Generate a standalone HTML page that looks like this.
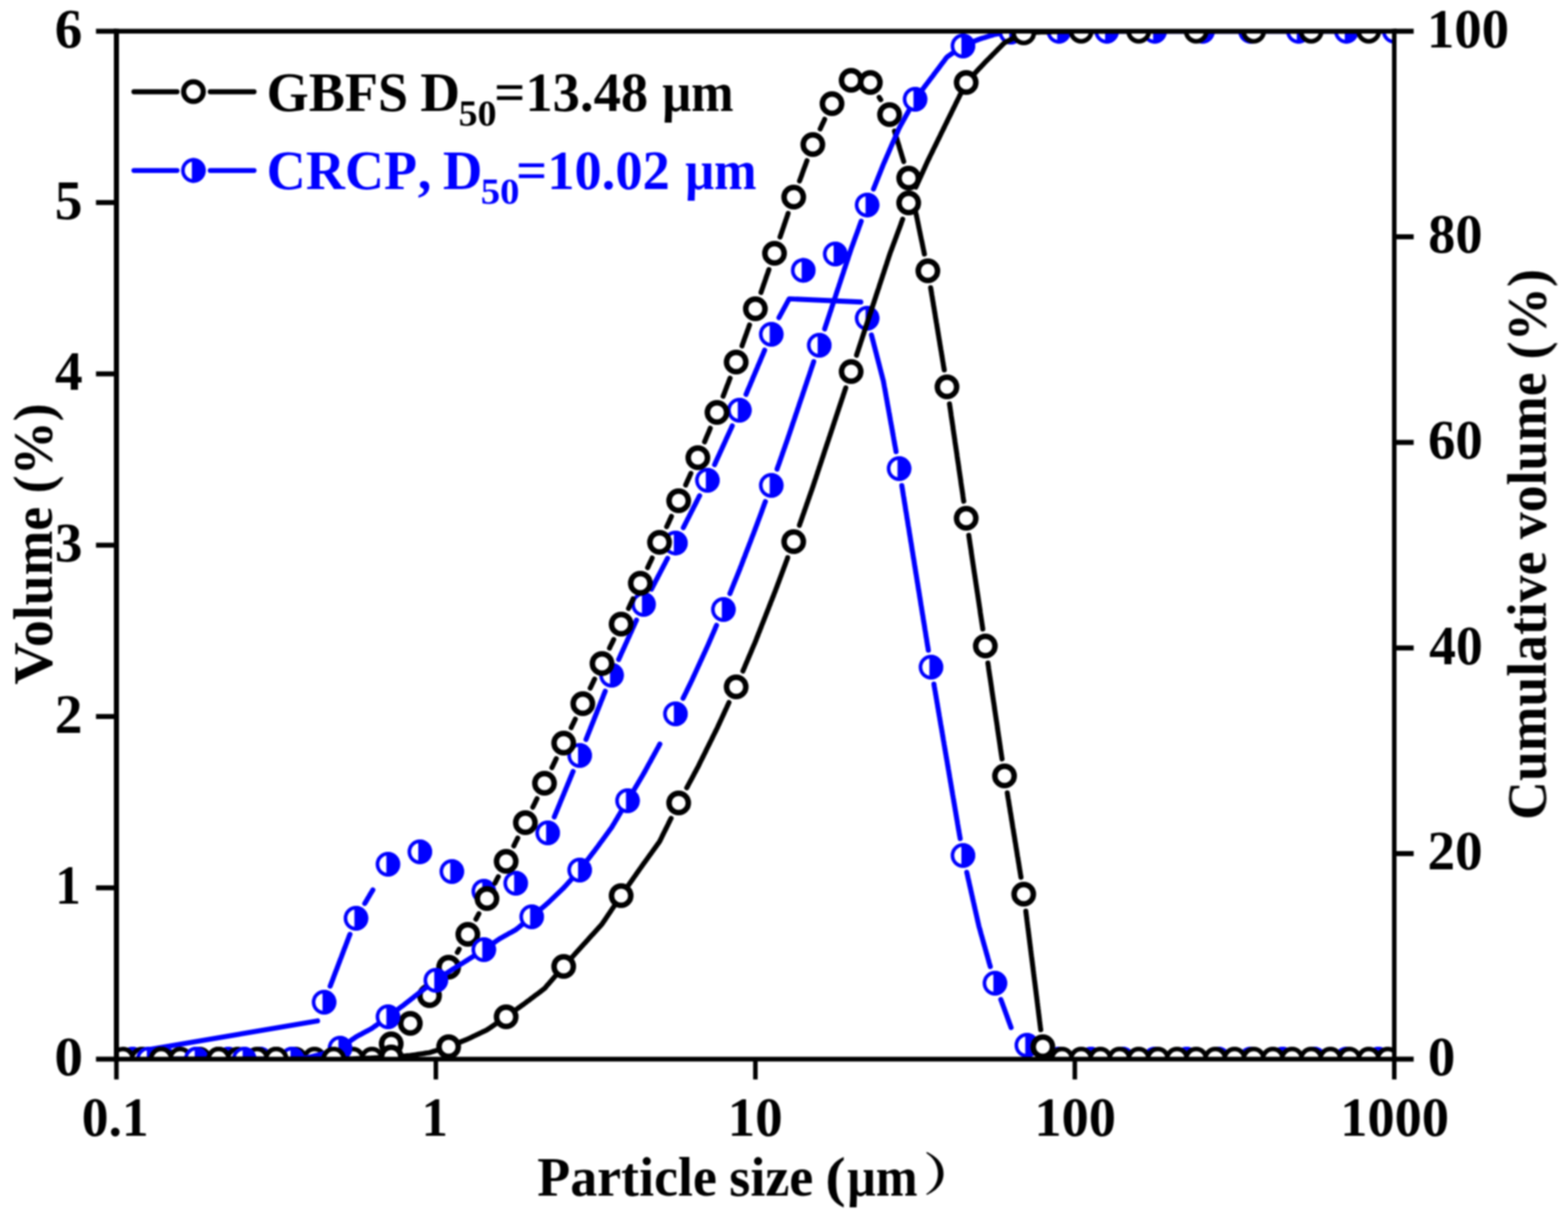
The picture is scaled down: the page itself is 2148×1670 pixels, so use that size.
<!DOCTYPE html>
<html lang="en"><head><meta charset="utf-8"><title>Particle size distribution</title>
<style>html,body{margin:0;padding:0;background:#fff;}body{width:2148px;height:1670px;overflow:hidden;}svg{display:block;}text{font-family:'Liberation Serif', 'Noto Serif CJK SC', serif;font-weight:bold;font-size:76px;}</style></head><body>
<svg width="2148" height="1670" viewBox="0 0 2148 1670">
<rect width="2148" height="1670" fill="#fff"/>
<defs><clipPath id="plot"><rect x="159.5" y="42.8" width="1750.5" height="1408.2"/></clipPath><filter id="soft" filterUnits="userSpaceOnUse" x="0" y="0" width="2148" height="1670" color-interpolation-filters="sRGB"><feGaussianBlur stdDeviation="0.85"/></filter></defs>
<g id="chart" filter="url(#soft)">
<g id="crcp-volume"><g clip-path="url(#plot)"><path d="M452.3,1351.0 L453.0,1349.2 L453.7,1347.3 L454.5,1345.4 L455.2,1343.5 L455.9,1341.7 L456.6,1339.8 L457.3,1337.9 L458.0,1336.1 L458.7,1334.2 L459.4,1332.3 L460.1,1330.5 L460.9,1328.6 L461.6,1326.7 L462.3,1324.8 L463.0,1323.0 L463.7,1321.1 L464.4,1319.2 L465.1,1317.4 L465.8,1315.5 L466.5,1313.6 L467.3,1311.8 L468.0,1309.9 L468.7,1308.0 L469.4,1306.2 L470.1,1304.3 L470.8,1302.4 L471.5,1300.5 L472.2,1298.7 L473.0,1296.8 L473.7,1294.9 L474.4,1293.1 L475.1,1291.2 L475.8,1289.3 L476.5,1287.5 L477.2,1285.6 L477.9,1283.7 L478.6,1281.8 L479.4,1280.0 M499.7,1237.7 L500.8,1235.9 L501.8,1234.2 L502.8,1232.5 L503.8,1230.7 L504.9,1229.0 L505.9,1227.3 L506.9,1225.5 L507.9,1223.8 L509.0,1222.1 L510.0,1220.4 L510.8,1219.1 M759.3,1119.2 L760.0,1117.4 L760.8,1115.5 L761.6,1113.7 L762.3,1111.8 L763.1,1110.0 L763.9,1108.1 L764.6,1106.3 L765.4,1104.4 L766.2,1102.6 L766.9,1100.7 L767.7,1098.9 L768.4,1097.0 L769.2,1095.2 L770.0,1093.3 L770.7,1091.5 L771.5,1089.6 L772.3,1087.8 L773.0,1085.9 L773.8,1084.1 L774.6,1082.2 L775.3,1080.4 L776.1,1078.5 L776.9,1076.7 L777.6,1074.8 L778.4,1073.0 L779.2,1071.1 L779.9,1069.3 L780.7,1067.4 L781.4,1065.6 L782.2,1063.7 L783.0,1061.8 L783.7,1060.0 L784.5,1058.1 L785.1,1056.8 M802.8,1013.1 L803.5,1011.2 L804.3,1009.4 L805.0,1007.5 L805.7,1005.6 L806.5,1003.8 L807.2,1001.9 L808.0,1000.0 L808.7,998.2 L809.4,996.3 L810.2,994.4 L810.9,992.6 L811.7,990.7 L812.4,988.9 L813.2,987.0 L813.9,985.1 L814.6,983.3 L815.4,981.4 L816.1,979.5 L816.9,977.7 L817.6,975.8 L818.3,973.9 L819.1,972.1 L819.8,970.2 L820.6,968.3 L821.3,966.5 L822.1,964.6 L822.8,962.8 L823.5,960.9 L824.3,959.0 L825.0,957.2 L825.8,955.3 L826.5,953.4 L827.2,951.6 L828.0,949.7 L828.7,947.8 L829.1,946.9 M847.5,903.5 L848.3,901.7 L849.2,899.8 L850.0,898.0 L850.8,896.2 L851.6,894.3 L852.5,892.5 L853.3,890.7 L854.1,888.9 L855.0,887.0 L855.8,885.2 L856.6,883.4 L857.4,881.5 L858.3,879.7 L859.1,877.9 L859.9,876.0 L860.7,874.2 L861.6,872.4 L862.4,870.6 L863.2,868.7 L864.0,866.9 L864.9,865.1 L865.7,863.2 L866.5,861.4 L867.3,859.6 L868.2,857.7 L869.0,855.9 L869.8,854.1 L870.6,852.2 L871.5,850.4 L871.9,849.5 M892.5,807.1 L893.4,805.3 L894.3,803.6 L895.2,801.8 L896.2,800.0 L897.1,798.2 L898.0,796.4 L898.9,794.7 L899.9,792.9 L900.8,791.1 L901.7,789.3 L902.7,787.6 L903.6,785.8 L904.5,784.0 L905.4,782.2 L906.4,780.4 L907.3,778.7 L908.2,776.9 L909.1,775.1 L910.1,773.3 L911.0,771.6 L911.9,769.8 L912.8,768.0 L913.8,766.2 L914.5,764.9 M936.1,722.9 L937.0,721.2 L937.9,719.4 L938.8,717.6 L939.7,715.8 L940.6,714.0 L941.5,712.2 L942.4,710.4 L943.4,708.6 L944.3,706.8 L945.2,705.0 L946.1,703.2 L947.0,701.4 L947.9,699.7 L948.8,697.9 L949.7,696.1 L950.6,694.3 L951.6,692.5 L952.5,690.7 L953.4,688.9 L954.3,687.1 L955.2,685.3 L956.1,683.5 L957.0,681.7 L957.9,679.9 L958.4,679.1 M978.9,636.6 L979.7,634.8 L980.5,633.0 L981.3,631.2 L982.2,629.3 L983.0,627.5 L983.8,625.7 L984.7,623.9 L985.5,622.1 L986.3,620.2 L987.2,618.4 L988.0,616.6 L988.8,614.8 L989.6,613.0 L990.5,611.1 L991.3,609.3 L992.1,607.5 L993.0,605.7 L993.8,603.9 L994.6,602.0 L995.4,600.2 L996.3,598.4 L997.1,596.6 L997.9,594.8 L998.8,592.9 L999.6,591.1 L1000.4,589.3 L1001.3,587.5 L1002.1,585.7 L1002.9,583.8 L1003.1,583.4 M1022.0,540.3 L1022.8,538.4 L1023.6,536.6 L1024.3,534.7 L1025.1,532.9 L1025.9,531.0 L1026.7,529.2 L1027.5,527.3 L1028.2,525.5 L1029.0,523.6 L1029.8,521.8 L1030.6,519.9 L1031.3,518.1 L1032.1,516.2 L1032.9,514.4 L1033.7,512.5 L1034.5,510.7 L1035.2,508.8 L1036.0,507.0 L1036.8,505.1 L1037.6,503.3 L1038.3,501.4 L1039.1,499.6 L1039.9,497.8 L1040.7,495.9 L1041.5,494.1 L1042.2,492.2 L1043.0,490.4 L1043.8,488.5 L1044.6,486.7 L1045.4,484.8 L1046.1,483.0 L1046.9,481.1 L1047.5,479.7 M1193.8,458.8 L1194.3,460.7 L1194.8,462.6 L1195.3,464.6 L1195.8,466.5 L1196.3,468.4 L1196.8,470.4 L1197.3,472.3 L1197.8,474.3 L1198.3,476.2 L1198.8,478.1 L1199.3,480.1 L1199.8,482.0 L1200.3,483.9 L1200.8,485.9 L1201.3,487.8 L1201.8,489.8 L1202.3,491.7 L1202.8,493.6 L1203.3,495.6 L1203.8,497.5 L1204.3,499.4 L1204.8,501.4 L1205.3,503.3 L1205.8,505.3 L1206.3,507.2 L1206.8,509.1 L1207.3,511.1 L1207.8,513.0 L1208.3,514.9 L1208.8,516.9 L1209.3,518.8 L1209.8,520.7 L1210.3,522.7 L1210.6,524.7 L1211.0,526.6 L1211.3,528.6 L1211.7,530.6 L1212.1,532.6 L1212.4,534.5 L1212.8,536.5 L1213.1,538.5 L1213.5,540.4 L1213.8,542.4 L1214.2,544.4 L1214.5,546.4 L1214.9,548.3 L1215.2,550.3 L1215.6,552.3 L1215.9,554.2 L1216.3,556.2 L1216.7,558.2 L1217.0,560.2 L1217.4,562.1 L1217.7,564.1 L1218.1,566.1 L1218.4,568.0 L1218.8,570.0 L1219.1,572.0 L1219.5,574.0 L1219.8,575.9 L1220.2,577.9 L1220.5,579.9 L1220.9,581.9 L1221.3,583.8 L1221.6,585.8 L1222.0,587.8 L1222.3,589.7 L1222.7,591.7 L1223.0,593.7 L1223.4,595.7 L1223.7,597.6 L1224.1,599.6 L1224.4,601.6 L1224.8,603.5 L1225.1,605.5 L1225.5,607.5 L1225.8,609.5 L1226.2,611.4 L1226.6,613.4 L1226.9,615.4 L1227.3,617.3 L1227.5,618.8 M1235.4,665.2 L1235.7,667.2 L1236.1,669.2 L1236.4,671.2 L1236.7,673.2 L1237.0,675.1 L1237.3,677.1 L1237.6,679.1 L1238.0,681.1 L1238.3,683.0 L1238.6,685.0 L1238.9,687.0 L1239.2,689.0 L1239.6,691.0 L1239.9,692.9 L1240.2,694.9 L1240.5,696.9 L1240.8,698.9 L1241.1,700.9 L1241.5,702.8 L1241.8,704.8 L1242.1,706.8 L1242.4,708.8 L1242.7,710.7 L1243.1,712.7 L1243.4,714.7 L1243.7,716.7 L1244.0,718.7 L1244.3,720.6 L1244.7,722.6 L1245.0,724.6 L1245.3,726.6 L1245.6,728.5 L1245.9,730.5 L1246.2,732.5 L1246.6,734.5 L1246.9,736.5 L1247.2,738.4 L1247.5,740.4 L1247.8,742.4 L1248.2,744.4 L1248.5,746.3 L1248.8,748.3 L1249.1,750.3 L1249.4,752.3 L1249.7,754.3 L1250.1,756.2 L1250.4,758.2 L1250.7,760.2 L1251.0,762.2 L1251.3,764.2 L1251.7,766.1 L1252.0,768.1 L1252.3,770.1 L1252.6,772.1 L1252.9,774.0 L1253.2,776.0 L1253.6,778.0 L1253.9,780.0 L1254.2,782.0 L1254.5,783.9 L1254.8,785.9 L1255.2,787.9 L1255.5,789.9 L1255.8,791.8 L1256.1,793.8 L1256.4,795.8 L1256.7,797.8 L1257.1,799.8 L1257.4,801.7 L1257.7,803.7 L1258.0,805.7 L1258.3,807.7 L1258.7,809.7 L1259.0,811.6 L1259.3,813.6 L1259.6,815.6 L1259.9,817.6 L1260.2,819.5 L1260.6,821.5 L1260.9,823.5 L1261.2,825.5 L1261.5,827.5 L1261.8,829.4 L1262.2,831.4 L1262.5,833.4 L1262.8,835.4 L1263.1,837.3 L1263.4,839.3 L1263.7,841.3 L1264.1,843.3 L1264.4,845.3 L1264.7,847.2 L1265.0,849.2 L1265.3,851.2 L1265.7,853.2 L1266.0,855.1 L1266.3,857.1 L1266.6,859.1 L1266.9,861.1 L1267.2,863.1 L1267.6,865.0 L1267.9,867.0 L1268.2,869.0 L1268.5,871.0 L1268.8,873.0 L1269.2,874.9 L1269.5,876.9 L1269.8,878.9 L1270.1,880.9 L1270.4,882.8 L1270.7,884.8 L1271.1,886.8 L1271.4,888.8 L1271.7,890.8 M1279.4,937.2 L1279.7,939.2 L1280.0,941.1 L1280.4,943.1 L1280.7,945.1 L1281.1,947.1 L1281.4,949.0 L1281.7,951.0 L1282.1,953.0 L1282.4,954.9 L1282.7,956.9 L1283.1,958.9 L1283.4,960.9 L1283.7,962.8 L1284.1,964.8 L1284.4,966.8 L1284.7,968.8 L1285.1,970.7 L1285.4,972.7 L1285.7,974.7 L1286.1,976.7 L1286.4,978.6 L1286.7,980.6 L1287.1,982.6 L1287.4,984.5 L1287.7,986.5 L1288.1,988.5 L1288.4,990.5 L1288.7,992.4 L1289.1,994.4 L1289.4,996.4 L1289.8,998.4 L1290.1,1000.3 L1290.4,1002.3 L1290.8,1004.3 L1291.1,1006.2 L1291.4,1008.2 L1291.8,1010.2 L1292.1,1012.2 L1292.4,1014.1 L1292.8,1016.1 L1293.1,1018.1 L1293.4,1020.1 L1293.8,1022.0 L1294.1,1024.0 L1294.4,1026.0 L1294.8,1028.0 L1295.1,1029.9 L1295.4,1031.9 L1295.8,1033.9 L1296.1,1035.8 L1296.4,1037.8 L1296.8,1039.8 L1297.1,1041.8 L1297.5,1043.7 L1297.8,1045.7 L1298.1,1047.7 L1298.5,1049.7 L1298.8,1051.6 L1299.1,1053.6 L1299.5,1055.6 L1299.8,1057.6 L1300.1,1059.5 L1300.5,1061.5 L1300.8,1063.5 L1301.1,1065.4 L1301.5,1067.4 L1301.8,1069.4 L1302.1,1071.4 L1302.5,1073.3 L1302.8,1075.3 L1303.1,1077.3 L1303.5,1079.3 L1303.8,1081.2 L1304.1,1083.2 L1304.5,1085.2 L1304.8,1087.2 L1305.1,1089.1 L1305.5,1091.1 L1305.8,1093.1 L1306.2,1095.0 L1306.5,1097.0 L1306.8,1099.0 L1307.2,1101.0 L1307.5,1102.9 L1307.8,1104.9 L1308.2,1106.9 L1308.5,1108.9 L1308.8,1110.8 L1309.2,1112.8 L1309.5,1114.8 L1309.8,1116.7 L1310.2,1118.7 L1310.5,1120.7 L1310.8,1122.7 L1311.2,1124.6 L1311.5,1126.6 L1311.8,1128.6 L1312.2,1130.6 L1312.5,1132.5 L1312.8,1134.5 L1313.2,1136.5 L1313.5,1138.5 L1313.9,1140.4 L1314.2,1142.4 L1314.5,1144.4 L1314.9,1146.3 L1315.2,1148.3 L1315.3,1148.8 M1324.4,1195.0 L1324.8,1196.9 L1325.3,1198.9 L1325.7,1200.8 L1326.1,1202.8 L1326.6,1204.8 L1327.0,1206.7 L1327.5,1208.7 L1327.9,1210.6 L1328.3,1212.6 L1328.8,1214.5 L1329.2,1216.5 L1329.7,1218.4 L1330.1,1220.4 L1330.5,1222.4 L1331.0,1224.3 L1331.4,1226.3 L1331.9,1228.2 L1332.3,1230.2 L1332.7,1232.1 L1333.2,1234.1 L1333.6,1236.0 L1334.1,1238.0 L1334.5,1240.0 L1334.9,1241.9 L1335.4,1243.9 L1335.8,1245.8 L1336.3,1247.8 L1336.7,1249.7 L1337.1,1251.7 L1337.6,1253.6 L1338.0,1255.6 L1338.5,1257.6 L1338.9,1259.5 L1339.3,1261.5 L1339.8,1263.4 L1340.2,1265.4 L1340.7,1267.3 L1341.1,1269.3 L1341.7,1271.2 L1342.2,1273.1 L1342.8,1275.1 L1343.3,1277.0 L1343.8,1278.9 L1344.4,1280.9 L1344.9,1282.8 L1345.5,1284.7 L1346.0,1286.7 L1346.6,1288.6 L1347.1,1290.5 L1347.6,1292.5 L1348.2,1294.4 L1348.7,1296.3 L1349.3,1298.2 L1349.8,1300.2 L1350.4,1302.1 L1350.9,1304.0 L1351.4,1306.0 L1352.0,1307.9 L1352.5,1309.8 L1353.1,1311.8 L1353.6,1313.7 L1354.2,1315.6 L1354.7,1317.6 L1355.2,1319.5 L1355.8,1321.4 L1356.3,1323.3 L1356.6,1324.3 M1371.0,1369.2 L1371.7,1371.0 L1372.4,1372.9 L1373.1,1374.8 L1373.8,1376.7 L1374.5,1378.6 L1375.2,1380.5 L1375.9,1382.4 L1376.5,1384.3 L1377.2,1386.1 L1377.9,1388.0 L1378.6,1389.9 L1379.3,1391.8 L1380.0,1393.7 L1380.7,1395.6 L1381.3,1397.5 L1382.0,1399.3 L1382.7,1401.2 L1383.4,1403.1 L1384.1,1405.0 L1384.8,1406.9 L1385.1,1407.8 M159.5,1445.3 L435.0,1398.6 M1067.1,435.1 L1081.1,409.4 L1179.2,413.8" fill="none" stroke="#0000ff" stroke-width="6.9" stroke-linecap="round" stroke-linejoin="round"/><circle cx="181.4" cy="1451.0" r="14.40" fill="#fff" stroke="#0000ff" stroke-width="5.0"/><path d="M179.2,1434.2 A16.9,16.9 0 1 1 179.2,1467.8 Z" fill="#0000ff"/><circle cx="225.1" cy="1451.0" r="14.40" fill="#fff" stroke="#0000ff" stroke-width="5.0"/><path d="M222.9,1434.2 A16.9,16.9 0 1 1 222.9,1467.8 Z" fill="#0000ff"/><circle cx="268.9" cy="1451.0" r="14.40" fill="#fff" stroke="#0000ff" stroke-width="5.0"/><path d="M266.7,1434.2 A16.9,16.9 0 1 1 266.7,1467.8 Z" fill="#0000ff"/><circle cx="312.7" cy="1451.0" r="14.40" fill="#fff" stroke="#0000ff" stroke-width="5.0"/><path d="M310.5,1434.2 A16.9,16.9 0 1 1 310.5,1467.8 Z" fill="#0000ff"/><circle cx="356.4" cy="1451.0" r="14.40" fill="#fff" stroke="#0000ff" stroke-width="5.0"/><path d="M354.2,1434.2 A16.9,16.9 0 1 1 354.2,1467.8 Z" fill="#0000ff"/><circle cx="400.2" cy="1451.0" r="14.40" fill="#fff" stroke="#0000ff" stroke-width="5.0"/><path d="M398.0,1434.2 A16.9,16.9 0 1 1 398.0,1467.8 Z" fill="#0000ff"/><circle cx="444.0" cy="1373.0" r="14.40" fill="#fff" stroke="#0000ff" stroke-width="5.0"/><path d="M441.8,1356.2 A16.9,16.9 0 1 1 441.8,1389.8 Z" fill="#0000ff"/><circle cx="487.7" cy="1258.0" r="14.40" fill="#fff" stroke="#0000ff" stroke-width="5.0"/><path d="M485.5,1241.2 A16.9,16.9 0 1 1 485.5,1274.8 Z" fill="#0000ff"/><circle cx="531.5" cy="1184.0" r="14.40" fill="#fff" stroke="#0000ff" stroke-width="5.0"/><path d="M529.3,1167.2 A16.9,16.9 0 1 1 529.3,1200.8 Z" fill="#0000ff"/><circle cx="575.2" cy="1167.0" r="14.40" fill="#fff" stroke="#0000ff" stroke-width="5.0"/><path d="M573.0,1150.2 A16.9,16.9 0 1 1 573.0,1183.8 Z" fill="#0000ff"/><circle cx="619.0" cy="1194.0" r="14.40" fill="#fff" stroke="#0000ff" stroke-width="5.0"/><path d="M616.8,1177.2 A16.9,16.9 0 1 1 616.8,1210.8 Z" fill="#0000ff"/><circle cx="662.8" cy="1221.0" r="14.40" fill="#fff" stroke="#0000ff" stroke-width="5.0"/><path d="M660.6,1204.2 A16.9,16.9 0 1 1 660.6,1237.8 Z" fill="#0000ff"/><circle cx="706.5" cy="1210.0" r="14.40" fill="#fff" stroke="#0000ff" stroke-width="5.0"/><path d="M704.3,1193.2 A16.9,16.9 0 1 1 704.3,1226.8 Z" fill="#0000ff"/><circle cx="750.3" cy="1141.0" r="14.40" fill="#fff" stroke="#0000ff" stroke-width="5.0"/><path d="M748.1,1124.2 A16.9,16.9 0 1 1 748.1,1157.8 Z" fill="#0000ff"/><circle cx="794.1" cy="1035.0" r="14.40" fill="#fff" stroke="#0000ff" stroke-width="5.0"/><path d="M791.9,1018.2 A16.9,16.9 0 1 1 791.9,1051.8 Z" fill="#0000ff"/><circle cx="837.8" cy="925.0" r="14.40" fill="#fff" stroke="#0000ff" stroke-width="5.0"/><path d="M835.6,908.2 A16.9,16.9 0 1 1 835.6,941.8 Z" fill="#0000ff"/><circle cx="881.6" cy="828.0" r="14.40" fill="#fff" stroke="#0000ff" stroke-width="5.0"/><path d="M879.4,811.2 A16.9,16.9 0 1 1 879.4,844.8 Z" fill="#0000ff"/><circle cx="925.3" cy="744.0" r="14.40" fill="#fff" stroke="#0000ff" stroke-width="5.0"/><path d="M923.1,727.2 A16.9,16.9 0 1 1 923.1,760.8 Z" fill="#0000ff"/><circle cx="969.1" cy="658.0" r="14.40" fill="#fff" stroke="#0000ff" stroke-width="5.0"/><path d="M966.9,641.2 A16.9,16.9 0 1 1 966.9,674.8 Z" fill="#0000ff"/><circle cx="1012.9" cy="562.0" r="14.40" fill="#fff" stroke="#0000ff" stroke-width="5.0"/><path d="M1010.7,545.2 A16.9,16.9 0 1 1 1010.7,578.8 Z" fill="#0000ff"/><circle cx="1056.6" cy="458.0" r="14.40" fill="#fff" stroke="#0000ff" stroke-width="5.0"/><path d="M1054.4,441.2 A16.9,16.9 0 1 1 1054.4,474.8 Z" fill="#0000ff"/><circle cx="1100.4" cy="370.3" r="14.40" fill="#fff" stroke="#0000ff" stroke-width="5.0"/><path d="M1098.2,353.5 A16.9,16.9 0 1 1 1098.2,387.1 Z" fill="#0000ff"/><circle cx="1144.2" cy="348.0" r="14.40" fill="#fff" stroke="#0000ff" stroke-width="5.0"/><path d="M1142.0,331.2 A16.9,16.9 0 1 1 1142.0,364.8 Z" fill="#0000ff"/><circle cx="1187.9" cy="436.0" r="14.40" fill="#fff" stroke="#0000ff" stroke-width="5.0"/><path d="M1185.7,419.2 A16.9,16.9 0 1 1 1185.7,452.8 Z" fill="#0000ff"/><circle cx="1231.7" cy="642.0" r="14.40" fill="#fff" stroke="#0000ff" stroke-width="5.0"/><path d="M1229.5,625.2 A16.9,16.9 0 1 1 1229.5,658.8 Z" fill="#0000ff"/><circle cx="1275.4" cy="914.0" r="14.40" fill="#fff" stroke="#0000ff" stroke-width="5.0"/><path d="M1273.2,897.2 A16.9,16.9 0 1 1 1273.2,930.8 Z" fill="#0000ff"/><circle cx="1319.2" cy="1172.0" r="14.40" fill="#fff" stroke="#0000ff" stroke-width="5.0"/><path d="M1317.0,1155.2 A16.9,16.9 0 1 1 1317.0,1188.8 Z" fill="#0000ff"/><circle cx="1363.0" cy="1347.0" r="14.40" fill="#fff" stroke="#0000ff" stroke-width="5.0"/><path d="M1360.8,1330.2 A16.9,16.9 0 1 1 1360.8,1363.8 Z" fill="#0000ff"/><circle cx="1406.7" cy="1432.0" r="14.40" fill="#fff" stroke="#0000ff" stroke-width="5.0"/><path d="M1404.5,1415.2 A16.9,16.9 0 1 1 1404.5,1448.8 Z" fill="#0000ff"/><circle cx="1450.5" cy="1451.0" r="14.40" fill="#fff" stroke="#0000ff" stroke-width="5.0"/><path d="M1448.3,1434.2 A16.9,16.9 0 1 1 1448.3,1467.8 Z" fill="#0000ff"/><circle cx="1494.3" cy="1451.0" r="14.40" fill="#fff" stroke="#0000ff" stroke-width="5.0"/><path d="M1492.1,1434.2 A16.9,16.9 0 1 1 1492.1,1467.8 Z" fill="#0000ff"/><circle cx="1538.0" cy="1451.0" r="14.40" fill="#fff" stroke="#0000ff" stroke-width="5.0"/><path d="M1535.8,1434.2 A16.9,16.9 0 1 1 1535.8,1467.8 Z" fill="#0000ff"/><circle cx="1581.8" cy="1451.0" r="14.40" fill="#fff" stroke="#0000ff" stroke-width="5.0"/><path d="M1579.6,1434.2 A16.9,16.9 0 1 1 1579.6,1467.8 Z" fill="#0000ff"/><circle cx="1625.5" cy="1451.0" r="14.40" fill="#fff" stroke="#0000ff" stroke-width="5.0"/><path d="M1623.3,1434.2 A16.9,16.9 0 1 1 1623.3,1467.8 Z" fill="#0000ff"/><circle cx="1669.3" cy="1451.0" r="14.40" fill="#fff" stroke="#0000ff" stroke-width="5.0"/><path d="M1667.1,1434.2 A16.9,16.9 0 1 1 1667.1,1467.8 Z" fill="#0000ff"/><circle cx="1713.1" cy="1451.0" r="14.40" fill="#fff" stroke="#0000ff" stroke-width="5.0"/><path d="M1710.9,1434.2 A16.9,16.9 0 1 1 1710.9,1467.8 Z" fill="#0000ff"/><circle cx="1756.8" cy="1451.0" r="14.40" fill="#fff" stroke="#0000ff" stroke-width="5.0"/><path d="M1754.6,1434.2 A16.9,16.9 0 1 1 1754.6,1467.8 Z" fill="#0000ff"/><circle cx="1800.6" cy="1451.0" r="14.40" fill="#fff" stroke="#0000ff" stroke-width="5.0"/><path d="M1798.4,1434.2 A16.9,16.9 0 1 1 1798.4,1467.8 Z" fill="#0000ff"/><circle cx="1844.4" cy="1451.0" r="14.40" fill="#fff" stroke="#0000ff" stroke-width="5.0"/><path d="M1842.2,1434.2 A16.9,16.9 0 1 1 1842.2,1467.8 Z" fill="#0000ff"/><circle cx="1888.1" cy="1451.0" r="14.40" fill="#fff" stroke="#0000ff" stroke-width="5.0"/><path d="M1885.9,1434.2 A16.9,16.9 0 1 1 1885.9,1467.8 Z" fill="#0000ff"/></g></g>
<g id="gbfs-volume"><g clip-path="url(#plot)"><path d="M626.5,1304.7 L627.5,1302.9 L628.5,1301.2 L629.0,1300.3 M652.0,1259.3 L653.0,1257.5 L653.9,1255.7 L654.8,1254.0 L655.8,1252.2 L656.0,1251.7 M678.0,1210.0 L678.9,1208.2 L679.8,1206.4 L680.7,1204.6 L681.7,1202.8 L682.6,1201.0 M703.9,1158.9 L704.8,1157.1 L705.6,1155.3 L706.5,1153.5 L707.4,1151.7 L708.3,1149.9 L709.2,1148.1 M729.9,1105.8 L730.8,1104.0 L731.7,1102.2 L732.6,1100.5 L733.4,1098.7 L734.3,1096.8 L735.2,1095.0 L735.6,1094.2 M756.1,1051.6 L757.0,1049.8 L757.9,1048.0 L758.7,1046.2 L759.6,1044.4 L760.5,1042.5 L761.3,1040.7 L762.0,1039.4 M782.5,996.9 L783.3,995.0 L784.2,993.2 L785.1,991.5 L786.0,989.6 L786.8,987.9 L787.7,986.0 L788.1,985.1 M808.6,942.6 L809.5,940.8 L810.4,939.0 L811.2,937.2 L812.1,935.4 L813.0,933.5 L813.8,931.7 L814.5,930.4 M835.0,887.9 L835.8,886.0 L836.7,884.2 L837.6,882.5 L838.5,880.6 L839.4,878.9 L840.2,877.0 L840.7,876.1 M861.0,833.6 L861.8,831.8 L862.7,830.0 L863.5,828.1 L864.4,826.3 L865.3,824.5 L866.1,822.7 L867.0,820.9 L867.2,820.4 M887.2,777.6 L888.1,775.8 L888.9,774.0 L889.8,772.1 L890.7,770.3 L891.5,768.5 L892.4,766.7 L893.2,764.9 L893.4,764.4 M913.3,721.6 L914.2,719.7 L915.0,717.9 L915.9,716.1 L916.7,714.3 L917.5,712.4 L918.4,710.6 L919.2,708.8 L919.8,707.4 M939.3,664.5 L940.1,662.7 L940.9,660.8 L941.7,659.0 L942.5,657.2 L943.4,655.4 L944.2,653.5 L945.0,651.7 L945.8,649.9 L946.4,648.5 M965.2,605.3 L966.0,603.4 L966.8,601.6 L967.5,599.7 L968.3,597.9 L969.1,596.0 L969.9,594.1 L970.7,592.3 L971.5,590.4 L972.2,588.6 L973.0,586.7 M990.6,542.9 L991.3,541.1 L992.1,539.2 L992.8,537.3 L993.5,535.4 L994.2,533.6 L994.9,531.7 L995.6,529.8 L996.3,527.9 L997.1,526.0 L997.8,524.2 L998.5,522.3 L999.2,520.4 L999.9,518.5 L1000.1,518.1 M1016.5,473.9 L1017.1,472.0 L1017.8,470.1 L1018.5,468.2 L1019.2,466.3 L1019.8,464.4 L1020.5,462.6 L1021.2,460.7 L1021.9,458.8 L1022.6,456.9 L1023.2,455.0 L1023.9,453.1 L1024.6,451.3 L1025.3,449.4 L1025.9,447.5 L1026.6,445.6 L1026.8,445.1 M1042.5,400.7 L1043.1,398.8 L1043.8,396.9 L1044.4,395.0 L1045.1,393.1 L1045.7,391.2 L1046.4,389.3 L1047.1,387.4 L1047.7,385.5 L1048.4,383.6 L1049.0,381.7 L1049.7,379.8 L1050.3,377.9 L1051.0,376.0 L1051.7,374.1 L1052.3,372.2 L1053.0,370.3 L1053.3,369.3 M1068.6,324.7 L1069.3,322.8 L1069.9,320.9 L1070.6,319.0 L1071.2,317.1 L1071.9,315.2 L1072.5,313.3 L1073.2,311.4 L1073.8,309.5 L1074.5,307.5 L1075.1,305.6 L1075.8,303.7 L1076.4,301.8 L1077.1,299.9 L1077.7,298.0 L1078.4,296.1 L1079.0,294.2 L1079.6,292.3 M1095.3,247.9 L1096.0,246.0 L1096.7,244.1 L1097.4,242.2 L1098.1,240.4 L1098.8,238.5 L1099.4,236.6 L1100.1,234.7 L1100.8,232.8 L1101.5,230.9 L1102.2,229.1 L1102.9,227.2 L1103.6,225.3 L1104.3,223.4 L1104.9,221.5 L1105.5,220.1 M1123.6,176.6 L1124.4,174.8 L1125.3,173.0 L1126.1,171.1 L1127.0,169.3 L1127.8,167.5 L1128.7,165.7 L1129.5,163.9 L1129.7,163.4 M1204.4,133.3 L1205.4,135.0 L1206.5,136.7 M1225.4,179.6 L1226.0,181.5 L1226.5,183.4 L1227.1,185.4 L1227.7,187.3 L1228.3,189.2 L1228.9,191.1 L1229.4,193.0 L1230.0,195.0 L1230.6,196.9 L1231.2,198.8 L1231.8,200.7 L1232.3,202.7 L1232.9,204.6 L1233.5,206.5 L1234.1,208.4 L1234.7,210.4 L1235.2,212.3 L1235.8,214.2 L1236.4,216.1 L1237.0,218.0 L1237.6,220.0 L1238.0,221.4 M1249.6,267.0 L1250.0,269.0 L1250.4,271.0 L1250.8,272.9 L1251.2,274.9 L1251.6,276.9 L1252.0,278.8 L1252.4,280.8 L1252.8,282.7 L1253.2,284.7 L1253.6,286.7 L1254.0,288.6 L1254.4,290.6 L1254.8,292.5 L1255.3,294.5 L1255.7,296.5 L1256.1,298.4 L1256.5,300.4 L1256.9,302.4 L1257.3,304.3 L1257.7,306.3 L1258.1,308.2 L1258.5,310.2 L1258.9,312.2 L1259.3,314.1 L1259.7,316.1 L1260.1,318.0 L1260.5,320.0 L1260.9,322.0 L1261.3,323.9 L1261.7,325.9 L1262.1,327.8 L1262.6,329.8 L1263.0,331.8 L1263.4,333.7 L1263.8,335.7 L1264.2,337.7 L1264.6,339.6 L1265.0,341.6 L1265.4,343.5 L1265.8,345.5 L1266.2,347.5 L1266.3,348.0 M1274.9,394.2 L1275.2,396.2 L1275.6,398.2 L1275.9,400.1 L1276.2,402.1 L1276.5,404.1 L1276.9,406.1 L1277.2,408.0 L1277.5,410.0 L1277.8,412.0 L1278.2,414.0 L1278.5,415.9 L1278.8,417.9 L1279.1,419.9 L1279.5,421.9 L1279.8,423.8 L1280.1,425.8 L1280.4,427.8 L1280.8,429.8 L1281.1,431.7 L1281.4,433.7 L1281.7,435.7 L1282.1,437.7 L1282.4,439.6 L1282.7,441.6 L1283.1,443.6 L1283.4,445.6 L1283.7,447.5 L1284.0,449.5 L1284.4,451.5 L1284.7,453.5 L1285.0,455.4 L1285.3,457.4 L1285.7,459.4 L1286.0,461.4 L1286.3,463.3 L1286.6,465.3 L1287.0,467.3 L1287.3,469.3 L1287.6,471.2 L1287.9,473.2 L1288.3,475.2 L1288.6,477.2 L1288.9,479.1 L1289.3,481.1 L1289.6,483.1 L1289.9,485.1 L1290.2,487.0 L1290.6,489.0 L1290.9,491.0 L1291.2,493.0 L1291.5,494.9 L1291.9,496.9 L1292.2,498.9 L1292.5,500.9 L1292.8,502.8 L1293.2,504.8 L1293.5,506.8 M1300.7,553.3 L1301.0,555.3 L1301.3,557.3 L1301.6,559.3 L1301.9,561.2 L1302.2,563.2 L1302.5,565.2 L1302.8,567.2 L1303.0,569.2 L1303.3,571.2 L1303.6,573.1 L1303.9,575.1 L1304.2,577.1 L1304.5,579.1 L1304.8,581.1 L1305.1,583.1 L1305.4,585.0 L1305.6,587.0 L1305.9,589.0 L1306.2,591.0 L1306.5,593.0 L1306.8,595.0 L1307.1,596.9 L1307.4,598.9 L1307.7,600.9 L1308.0,602.9 L1308.2,604.9 L1308.5,606.9 L1308.8,608.8 L1309.1,610.8 L1309.4,612.8 L1309.7,614.8 L1310.0,616.8 L1310.3,618.8 L1310.6,620.7 L1310.9,622.7 L1311.1,624.7 L1311.4,626.7 L1311.7,628.7 L1312.0,630.7 L1312.3,632.6 L1312.6,634.6 L1312.9,636.6 L1313.2,638.6 L1313.5,640.6 L1313.7,642.6 L1314.0,644.5 L1314.3,646.5 L1314.6,648.5 L1314.9,650.5 L1315.2,652.5 L1315.5,654.5 L1315.8,656.4 L1316.1,658.4 L1316.3,660.4 L1316.6,662.4 L1316.9,664.4 L1317.2,666.4 L1317.5,668.3 L1317.8,670.3 L1318.1,672.3 L1318.4,674.3 L1318.7,676.3 L1319.0,678.3 L1319.2,680.2 L1319.5,682.2 L1319.8,684.2 L1320.1,686.2 L1320.2,686.7 M1327.1,733.3 L1327.4,735.3 L1327.7,737.3 L1328.0,739.2 L1328.3,741.2 L1328.6,743.2 L1328.9,745.2 L1329.2,747.2 L1329.5,749.2 L1329.8,751.1 L1330.1,753.1 L1330.4,755.1 L1330.6,757.1 L1330.9,759.1 L1331.2,761.1 L1331.5,763.0 L1331.8,765.0 L1332.1,767.0 L1332.4,769.0 L1332.7,771.0 L1333.0,773.0 L1333.3,774.9 L1333.6,776.9 L1333.9,778.9 L1334.2,780.9 L1334.5,782.9 L1334.8,784.9 L1335.1,786.8 L1335.4,788.8 L1335.7,790.8 L1336.0,792.8 L1336.3,794.8 L1336.6,796.8 L1336.9,798.7 L1337.2,800.7 L1337.5,802.7 L1337.8,804.7 L1338.1,806.7 L1338.4,808.7 L1338.7,810.6 L1339.0,812.6 L1339.3,814.6 L1339.6,816.6 L1339.9,818.6 L1340.2,820.6 L1340.5,822.5 L1340.8,824.5 L1341.1,826.5 L1341.4,828.5 L1341.7,830.5 L1342.0,832.5 L1342.3,834.4 L1342.6,836.4 L1342.8,838.4 L1343.1,840.4 L1343.4,842.4 L1343.7,844.3 L1344.0,846.3 L1344.3,848.3 L1344.6,850.3 L1344.9,852.3 L1345.2,854.3 L1345.5,856.2 L1345.8,858.2 L1346.1,860.2 L1346.3,861.7 M1353.3,908.3 L1353.6,910.3 L1353.9,912.3 L1354.2,914.3 L1354.4,916.2 L1354.7,918.2 L1355.0,920.2 L1355.3,922.2 L1355.6,924.2 L1355.9,926.2 L1356.2,928.1 L1356.5,930.1 L1356.8,932.1 L1357.1,934.1 L1357.4,936.1 L1357.7,938.1 L1358.0,940.0 L1358.3,942.0 L1358.5,944.0 L1358.8,946.0 L1359.1,948.0 L1359.4,950.0 L1359.7,951.9 L1360.0,953.9 L1360.3,955.9 L1360.6,957.9 L1360.9,959.9 L1361.2,961.9 L1361.5,963.8 L1361.8,965.8 L1362.1,967.8 L1362.3,969.8 L1362.6,971.8 L1362.9,973.8 L1363.2,975.7 L1363.5,977.7 L1363.8,979.7 L1364.1,981.7 L1364.4,983.7 L1364.7,985.7 L1365.0,987.6 L1365.3,989.6 L1365.6,991.6 L1365.9,993.6 L1366.2,995.6 L1366.4,997.6 L1366.7,999.5 L1367.0,1001.5 L1367.3,1003.5 L1367.6,1005.5 L1367.9,1007.5 L1368.2,1009.5 L1368.5,1011.4 L1368.8,1013.4 L1369.1,1015.4 L1369.4,1017.4 L1369.7,1019.4 L1370.0,1021.4 L1370.2,1023.3 L1370.5,1025.3 L1370.8,1027.3 L1371.1,1029.3 L1371.4,1031.3 L1371.7,1033.3 L1372.0,1035.2 L1372.3,1037.2 L1372.6,1039.2 L1372.7,1039.7 M1379.9,1086.2 L1380.2,1088.2 L1380.5,1090.2 L1380.8,1092.1 L1381.1,1094.1 L1381.5,1096.1 L1381.8,1098.1 L1382.1,1100.0 L1382.4,1102.0 L1382.7,1104.0 L1383.1,1106.0 L1383.4,1107.9 L1383.7,1109.9 L1384.0,1111.9 L1384.3,1113.9 L1384.7,1115.8 L1385.0,1117.8 L1385.3,1119.8 L1385.6,1121.8 L1385.9,1123.8 L1386.3,1125.7 L1386.6,1127.7 L1386.9,1129.7 L1387.2,1131.7 L1387.5,1133.6 L1387.9,1135.6 L1388.2,1137.6 L1388.5,1139.6 L1388.8,1141.5 L1389.1,1143.5 L1389.5,1145.5 L1389.8,1147.5 L1390.1,1149.4 L1390.4,1151.4 L1390.7,1153.4 L1391.1,1155.4 L1391.4,1157.3 L1391.7,1159.3 L1392.0,1161.3 L1392.3,1163.3 L1392.7,1165.2 L1393.0,1167.2 L1393.3,1169.2 L1393.6,1171.2 L1393.9,1173.1 L1394.3,1175.1 L1394.6,1177.1 L1394.9,1179.1 L1395.2,1181.0 L1395.6,1183.0 L1395.9,1185.0 L1396.2,1187.0 L1396.5,1188.9 L1396.8,1190.9 L1397.2,1192.9 L1397.5,1194.9 L1397.8,1196.8 L1398.1,1198.8 L1398.4,1200.8 L1398.6,1201.8 M1405.3,1248.3 L1405.5,1250.3 L1405.8,1252.3 L1406.0,1254.3 L1406.3,1256.3 L1406.5,1258.3 L1406.8,1260.2 L1407.0,1262.2 L1407.3,1264.2 L1407.5,1266.2 L1407.8,1268.2 L1408.0,1270.2 L1408.3,1272.2 L1408.5,1274.1 L1408.8,1276.1 L1409.0,1278.1 L1409.3,1280.1 L1409.5,1282.1 L1409.8,1284.1 L1410.0,1286.1 L1410.3,1288.0 L1410.5,1290.0 L1410.8,1292.0 L1411.0,1294.0 L1411.3,1296.0 L1411.5,1298.0 L1411.8,1300.0 L1412.0,1301.9 L1412.3,1303.9 L1412.5,1305.9 L1412.8,1307.9 L1413.0,1309.9 L1413.3,1311.9 L1413.5,1313.9 L1413.8,1315.8 L1414.0,1317.8 L1414.3,1319.8 L1414.5,1321.8 L1414.8,1323.8 L1415.0,1325.8 L1415.3,1327.8 L1415.5,1329.7 L1415.8,1331.7 L1416.0,1333.7 L1416.3,1335.7 L1416.5,1337.7 L1416.8,1339.7 L1417.0,1341.7 L1417.3,1343.6 L1417.5,1345.6 L1417.8,1347.6 L1418.0,1349.6 L1418.3,1351.6 L1418.5,1353.6 L1418.8,1355.6 L1419.0,1357.5 L1419.3,1359.5 L1419.5,1361.5 L1419.8,1363.5 L1420.0,1365.5 L1420.3,1367.5 L1420.5,1369.5 L1420.8,1371.4 L1421.0,1373.4 L1421.3,1375.4 L1421.5,1377.4 L1421.8,1379.4 L1422.0,1381.4 L1422.3,1383.4 L1422.5,1385.3 L1422.7,1387.3 L1423.0,1389.3 L1423.2,1391.3 L1423.5,1393.3 L1423.7,1395.3 L1424.0,1397.3 L1424.2,1399.2 L1424.5,1401.2 L1424.7,1403.2 L1425.0,1405.2 L1425.2,1407.2 L1425.5,1409.2 L1425.7,1410.7" fill="none" stroke="#000000" stroke-width="6.9" stroke-linecap="round" stroke-linejoin="round"/><circle cx="168.3" cy="1451.0" r="13.85" fill="#fff" stroke="#000" stroke-width="6.3"/><circle cx="194.5" cy="1451.0" r="13.85" fill="#fff" stroke="#000" stroke-width="6.3"/><circle cx="220.8" cy="1451.0" r="13.85" fill="#fff" stroke="#000" stroke-width="6.3"/><circle cx="247.0" cy="1451.0" r="13.85" fill="#fff" stroke="#000" stroke-width="6.3"/><circle cx="273.3" cy="1451.0" r="13.85" fill="#fff" stroke="#000" stroke-width="6.3"/><circle cx="299.5" cy="1451.0" r="13.85" fill="#fff" stroke="#000" stroke-width="6.3"/><circle cx="325.8" cy="1451.0" r="13.85" fill="#fff" stroke="#000" stroke-width="6.3"/><circle cx="352.1" cy="1451.0" r="13.85" fill="#fff" stroke="#000" stroke-width="6.3"/><circle cx="378.3" cy="1451.0" r="13.85" fill="#fff" stroke="#000" stroke-width="6.3"/><circle cx="404.6" cy="1451.0" r="13.85" fill="#fff" stroke="#000" stroke-width="6.3"/><circle cx="430.8" cy="1451.0" r="13.85" fill="#fff" stroke="#000" stroke-width="6.3"/><circle cx="457.1" cy="1451.0" r="13.85" fill="#fff" stroke="#000" stroke-width="6.3"/><circle cx="483.3" cy="1451.0" r="13.85" fill="#fff" stroke="#000" stroke-width="6.3"/><circle cx="509.6" cy="1451.0" r="13.85" fill="#fff" stroke="#000" stroke-width="6.3"/><circle cx="535.9" cy="1430.0" r="13.25" fill="#fff" stroke="#000" stroke-width="7.5"/><circle cx="562.1" cy="1402.0" r="13.25" fill="#fff" stroke="#000" stroke-width="7.5"/><circle cx="588.4" cy="1364.0" r="13.25" fill="#fff" stroke="#000" stroke-width="7.5"/><circle cx="614.6" cy="1325.0" r="13.25" fill="#fff" stroke="#000" stroke-width="7.5"/><circle cx="640.9" cy="1280.0" r="13.25" fill="#fff" stroke="#000" stroke-width="7.5"/><circle cx="667.1" cy="1231.0" r="13.25" fill="#fff" stroke="#000" stroke-width="7.5"/><circle cx="693.4" cy="1180.0" r="13.25" fill="#fff" stroke="#000" stroke-width="7.5"/><circle cx="719.7" cy="1127.0" r="13.25" fill="#fff" stroke="#000" stroke-width="7.5"/><circle cx="745.9" cy="1073.0" r="13.25" fill="#fff" stroke="#000" stroke-width="7.5"/><circle cx="772.2" cy="1018.0" r="13.25" fill="#fff" stroke="#000" stroke-width="7.5"/><circle cx="798.4" cy="964.0" r="13.25" fill="#fff" stroke="#000" stroke-width="7.5"/><circle cx="824.7" cy="909.0" r="13.25" fill="#fff" stroke="#000" stroke-width="7.5"/><circle cx="850.9" cy="855.0" r="13.25" fill="#fff" stroke="#000" stroke-width="7.5"/><circle cx="877.2" cy="799.0" r="13.25" fill="#fff" stroke="#000" stroke-width="7.5"/><circle cx="903.5" cy="743.0" r="13.25" fill="#fff" stroke="#000" stroke-width="7.5"/><circle cx="929.7" cy="686.0" r="13.25" fill="#fff" stroke="#000" stroke-width="7.5"/><circle cx="956.0" cy="627.0" r="13.25" fill="#fff" stroke="#000" stroke-width="7.5"/><circle cx="982.2" cy="565.0" r="13.25" fill="#fff" stroke="#000" stroke-width="7.5"/><circle cx="1008.5" cy="496.0" r="13.25" fill="#fff" stroke="#000" stroke-width="7.5"/><circle cx="1034.8" cy="423.0" r="13.25" fill="#fff" stroke="#000" stroke-width="7.5"/><circle cx="1061.0" cy="347.0" r="13.25" fill="#fff" stroke="#000" stroke-width="7.5"/><circle cx="1087.3" cy="270.0" r="13.25" fill="#fff" stroke="#000" stroke-width="7.5"/><circle cx="1113.5" cy="198.0" r="13.25" fill="#fff" stroke="#000" stroke-width="7.5"/><circle cx="1139.8" cy="142.0" r="13.25" fill="#fff" stroke="#000" stroke-width="7.5"/><circle cx="1166.0" cy="110.0" r="13.25" fill="#fff" stroke="#000" stroke-width="7.5"/><circle cx="1192.3" cy="113.0" r="13.25" fill="#fff" stroke="#000" stroke-width="7.5"/><circle cx="1218.6" cy="157.0" r="13.25" fill="#fff" stroke="#000" stroke-width="7.5"/><circle cx="1244.8" cy="244.0" r="13.25" fill="#fff" stroke="#000" stroke-width="7.5"/><circle cx="1271.1" cy="371.0" r="13.25" fill="#fff" stroke="#000" stroke-width="7.5"/><circle cx="1297.3" cy="530.0" r="13.25" fill="#fff" stroke="#000" stroke-width="7.5"/><circle cx="1323.6" cy="710.0" r="13.25" fill="#fff" stroke="#000" stroke-width="7.5"/><circle cx="1349.8" cy="885.0" r="13.25" fill="#fff" stroke="#000" stroke-width="7.5"/><circle cx="1376.1" cy="1063.0" r="13.25" fill="#fff" stroke="#000" stroke-width="7.5"/><circle cx="1402.4" cy="1225.0" r="13.25" fill="#fff" stroke="#000" stroke-width="7.5"/><circle cx="1428.6" cy="1434.0" r="13.25" fill="#fff" stroke="#000" stroke-width="7.5"/><circle cx="1454.9" cy="1451.0" r="13.85" fill="#fff" stroke="#000" stroke-width="6.3"/><circle cx="1481.1" cy="1451.0" r="13.85" fill="#fff" stroke="#000" stroke-width="6.3"/><circle cx="1507.4" cy="1451.0" r="13.85" fill="#fff" stroke="#000" stroke-width="6.3"/><circle cx="1533.6" cy="1451.0" r="13.85" fill="#fff" stroke="#000" stroke-width="6.3"/><circle cx="1559.9" cy="1451.0" r="13.85" fill="#fff" stroke="#000" stroke-width="6.3"/><circle cx="1586.2" cy="1451.0" r="13.85" fill="#fff" stroke="#000" stroke-width="6.3"/><circle cx="1612.4" cy="1451.0" r="13.85" fill="#fff" stroke="#000" stroke-width="6.3"/><circle cx="1638.7" cy="1451.0" r="13.85" fill="#fff" stroke="#000" stroke-width="6.3"/><circle cx="1664.9" cy="1451.0" r="13.85" fill="#fff" stroke="#000" stroke-width="6.3"/><circle cx="1691.2" cy="1451.0" r="13.85" fill="#fff" stroke="#000" stroke-width="6.3"/><circle cx="1717.4" cy="1451.0" r="13.85" fill="#fff" stroke="#000" stroke-width="6.3"/><circle cx="1743.7" cy="1451.0" r="13.85" fill="#fff" stroke="#000" stroke-width="6.3"/><circle cx="1770.0" cy="1451.0" r="13.85" fill="#fff" stroke="#000" stroke-width="6.3"/><circle cx="1796.2" cy="1451.0" r="13.85" fill="#fff" stroke="#000" stroke-width="6.3"/><circle cx="1822.5" cy="1451.0" r="13.85" fill="#fff" stroke="#000" stroke-width="6.3"/><circle cx="1848.7" cy="1451.0" r="13.85" fill="#fff" stroke="#000" stroke-width="6.3"/><circle cx="1875.0" cy="1451.0" r="13.85" fill="#fff" stroke="#000" stroke-width="6.3"/><circle cx="1901.2" cy="1451.0" r="13.85" fill="#fff" stroke="#000" stroke-width="6.3"/></g></g>
<g id="crcp-cumulative"><g clip-path="url(#plot)"><path d="M203.3,1451.0 L205.3,1451.0 L207.3,1451.0 L209.4,1451.0 L211.4,1451.0 L213.4,1451.0 L215.5,1451.0 L217.5,1451.0 L219.5,1451.0 L221.6,1451.0 L223.6,1451.0 L225.7,1451.0 L227.7,1451.0 L229.7,1451.0 L231.8,1451.0 L233.8,1451.0 L235.8,1451.0 L237.9,1451.0 L239.9,1451.0 L241.9,1451.0 L244.0,1451.0 L246.0,1451.0 L248.0,1451.0 L250.1,1451.0 L252.1,1451.0 L254.1,1451.0 L256.2,1451.0 L258.2,1451.0 L260.3,1451.0 L262.3,1451.0 L264.3,1451.0 L266.4,1451.0 L268.4,1451.0 L270.4,1451.0 L272.5,1451.0 L274.5,1451.0 L276.5,1451.0 L278.6,1451.0 L280.6,1451.0 L282.6,1451.0 L284.7,1451.0 L286.7,1451.0 L288.8,1451.0 L290.8,1451.0 L292.8,1451.0 L294.9,1451.0 L296.9,1451.0 L298.9,1451.0 L301.0,1451.0 L303.0,1451.0 L305.0,1451.0 L307.1,1451.0 L309.1,1451.0 L311.1,1451.0 L313.2,1451.0 L315.2,1451.0 L317.2,1451.0 L319.3,1451.0 L321.3,1451.0 L323.4,1451.0 L325.4,1451.0 L327.4,1451.0 L329.5,1451.0 L331.5,1451.0 L333.5,1451.0 L335.6,1451.0 L337.6,1451.0 L339.6,1451.0 L341.7,1451.0 L343.7,1451.0 L345.7,1451.0 L347.8,1451.0 L349.8,1451.0 L351.9,1451.0 L353.9,1451.0 L355.9,1451.0 L358.0,1451.0 L360.0,1451.0 L362.0,1451.0 L364.1,1451.0 L366.1,1451.0 L368.1,1451.0 L370.2,1451.0 L372.2,1451.0 L374.2,1451.0 L376.3,1451.0 L378.3,1451.0 L380.3,1451.0 L382.4,1451.0 L384.4,1451.0 L386.5,1451.0 L388.5,1451.0 L390.5,1451.0 L392.6,1451.0 L394.6,1451.0 L396.6,1451.0 L398.7,1451.0 L400.7,1450.9 L402.7,1450.7 L404.8,1450.5 L406.8,1450.3 L408.8,1450.1 L410.9,1449.9 L412.9,1449.7 L415.0,1449.5 L417.0,1449.3 L419.0,1449.1 L421.1,1448.9 L423.0,1448.5 L425.0,1448.0 L426.9,1447.5 L428.9,1447.0 L430.8,1446.5 L432.8,1446.0 L434.7,1445.5 L436.7,1445.0 L438.6,1444.5 L440.6,1444.1 L442.5,1443.6 L444.4,1443.0 L446.3,1442.4 L448.2,1441.8 L450.1,1441.2 L452.0,1440.5 L453.9,1439.9 L455.8,1439.3 L457.8,1438.7 L459.7,1438.0 L461.6,1437.4 L463.5,1436.8 L465.4,1436.2 L467.1,1435.1 L468.7,1434.0 L470.4,1432.8 L472.0,1431.6 L473.7,1430.4 L475.3,1429.3 L477.0,1428.1 L478.6,1426.9 L480.3,1425.8 L481.9,1424.6 L483.6,1423.4 L485.2,1422.3 L486.9,1421.1 L488.6,1420.0 L490.4,1419.1 L492.2,1418.1 L494.0,1417.2 L495.8,1416.2 L497.5,1415.2 L499.3,1414.3 L501.1,1413.3 L502.9,1412.4 L504.7,1411.4 L506.5,1410.5 L508.3,1409.5 L510.0,1408.5 L511.7,1407.3 L513.3,1406.1 L515.0,1404.9 L516.6,1403.7 L518.3,1402.5 L519.9,1401.3 L521.6,1400.2 L523.2,1399.0 L524.9,1397.8 L526.5,1396.6 L528.2,1395.4 L529.8,1394.2 L531.5,1393.0 L533.1,1391.8 L534.7,1390.6 L536.3,1389.3 L538.0,1388.1 L539.6,1386.9 L541.2,1385.7 L542.8,1384.5 L544.4,1383.3 L546.1,1382.0 L547.7,1380.8 L549.3,1379.6 L550.9,1378.4 L552.6,1377.2 L554.2,1375.9 L555.7,1374.7 L557.3,1373.4 L558.9,1372.2 L560.5,1370.9 L562.1,1369.7 L563.7,1368.4 L565.3,1367.2 L566.9,1365.9 L568.5,1364.6 L570.1,1363.4 L571.7,1362.1 L573.3,1360.9 L574.8,1359.6 L576.5,1358.4 L578.1,1357.2 L579.7,1356.0 L581.3,1354.8 L582.9,1353.6 L584.6,1352.4 L586.2,1351.2 L587.8,1349.9 L589.4,1348.7 L591.0,1347.5 L592.7,1346.3 L594.3,1345.1 L595.9,1343.9 L597.5,1342.7 L599.2,1341.6 L600.9,1340.5 L602.6,1339.4 L604.3,1338.3 L606.0,1337.2 L607.6,1336.1 L609.3,1335.0 L611.0,1333.8 L612.7,1332.7 L614.4,1331.6 L616.1,1330.5 L617.7,1329.4 L619.4,1328.3 L621.2,1327.2 L622.9,1326.2 L624.6,1325.1 L626.3,1324.0 L628.0,1323.0 L629.7,1321.9 L631.4,1320.8 L633.2,1319.8 L634.9,1318.7 L636.6,1317.6 L638.3,1316.5 L640.0,1315.5 L641.7,1314.4 L643.5,1313.3 L645.2,1312.2 L646.9,1311.1 L648.6,1310.0 L650.3,1308.9 L652.0,1307.8 L653.8,1306.7 L655.5,1305.6 L657.2,1304.6 L658.9,1303.5 L660.6,1302.4 L662.3,1301.3 L664.0,1300.1 L665.7,1299.0 L667.3,1297.9 L669.0,1296.7 L670.6,1295.6 L672.3,1294.4 L673.9,1293.3 L675.6,1292.2 L677.2,1291.0 L678.9,1289.9 L680.5,1288.7 L682.2,1287.6 L683.8,1286.5 L685.5,1285.4 L687.3,1284.4 L689.0,1283.5 L690.8,1282.5 L692.5,1281.5 L694.3,1280.6 L696.0,1279.6 L697.8,1278.6 L699.5,1277.7 L701.3,1276.7 L703.0,1275.7 L704.8,1274.8 L706.5,1273.8 L708.1,1272.5 L709.7,1271.3 L711.2,1270.0 L712.8,1268.7 L714.3,1267.4 L715.9,1266.2 L717.5,1264.9 L719.0,1263.6 L720.6,1262.4 L722.2,1261.1 L723.7,1259.8 L725.3,1258.5 L726.8,1257.3 L728.4,1256.0 L729.9,1254.7 L731.5,1253.4 L733.0,1252.1 L734.6,1250.8 L736.1,1249.4 L737.6,1248.1 L739.2,1246.8 L740.7,1245.5 L742.2,1244.2 L743.8,1242.9 L745.3,1241.6 L746.8,1240.3 L748.4,1238.9 L749.9,1237.6 L751.4,1236.3 L752.8,1234.9 L754.3,1233.5 L755.8,1232.1 L757.2,1230.7 L758.7,1229.3 L760.1,1227.9 L761.6,1226.5 L763.1,1225.1 L764.5,1223.7 L766.0,1222.3 L767.4,1220.9 L768.9,1219.5 L770.4,1218.1 L771.8,1216.7 L773.2,1215.3 L774.5,1213.8 L775.9,1212.3 L777.2,1210.8 L778.6,1209.3 L779.9,1207.8 L781.3,1206.3 L782.6,1204.8 L784.0,1203.3 L785.3,1201.8 L786.7,1200.3 L788.0,1198.8 L789.3,1197.3 L790.7,1195.8 L792.0,1194.3 L793.4,1192.8 L794.7,1191.2 L795.9,1189.6 L797.1,1188.0 L798.4,1186.4 L799.6,1184.8 L800.8,1183.2 L802.1,1181.6 L803.3,1180.0 L804.5,1178.4 L805.8,1176.8 L807.0,1175.2 L808.2,1173.6 L809.5,1172.0 L810.7,1170.4 L811.9,1168.8 L813.2,1167.2 L814.4,1165.6 L815.6,1164.0 L816.8,1162.4 L818.0,1160.8 L819.2,1159.2 L820.4,1157.5 L821.6,1155.9 L822.7,1154.3 L823.9,1152.7 L825.1,1151.1 L826.3,1149.5 L827.5,1147.8 L828.7,1146.2 L829.8,1144.6 L831.0,1143.0 L832.2,1141.4 L833.4,1139.8 L834.6,1138.1 L835.7,1136.5 L836.9,1134.9 L838.1,1133.3 L839.1,1131.5 L840.1,1129.8 L841.2,1128.1 L842.2,1126.4 L843.2,1124.6 L844.3,1122.9 L845.3,1121.2 L846.3,1119.5 L847.3,1117.7 L848.4,1116.0 L849.4,1114.3 L850.4,1112.5 L851.5,1110.8 L852.5,1109.1 L853.5,1107.4 L854.6,1105.6 L855.6,1103.9 L856.6,1102.2 L857.6,1100.5 L858.7,1098.7 L859.7,1097.0 L860.7,1095.3 L861.8,1093.5 L862.8,1091.8 L863.8,1090.1 L864.8,1088.3 L865.9,1086.6 L866.9,1084.9 L867.9,1083.1 L869.0,1081.4 L870.0,1079.6 L871.0,1077.9 L872.1,1076.2 L873.1,1074.4 L874.1,1072.7 L875.1,1071.0 L876.2,1069.2 L877.2,1067.5 L878.2,1065.8 L879.3,1064.0 L880.3,1062.3 L881.3,1060.6 L882.3,1058.8 L883.3,1057.0 L884.3,1055.2 L885.2,1053.5 L886.2,1051.7 L887.2,1049.9 L888.1,1048.2 L889.1,1046.4 L890.1,1044.6 L891.1,1042.9 L892.0,1041.1 L893.0,1039.3 L894.0,1037.5 L895.0,1035.8 L895.9,1034.0 L896.9,1032.2 L897.9,1030.5 L898.8,1028.7 L899.8,1026.9 L900.8,1025.1 L901.8,1023.4 L902.7,1021.6 L903.7,1019.8 L903.9,1019.4 M935.7,956.7 L936.6,954.9 L937.5,953.1 L938.4,951.3 L939.3,949.5 L940.2,947.7 L941.0,945.9 L941.9,944.1 L942.8,942.2 L943.7,940.4 L944.6,938.6 L945.5,936.8 L946.3,935.0 L947.2,933.2 L948.1,931.4 L948.9,929.6 L949.7,927.7 L950.6,925.9 L951.4,924.1 L952.2,922.3 L953.1,920.5 L953.9,918.6 L954.7,916.8 L955.6,915.0 L956.4,913.2 L957.2,911.4 L958.1,909.6 L958.9,907.7 L959.7,905.9 L960.6,904.1 L961.4,902.3 L962.2,900.5 L963.1,898.6 L963.9,896.8 L964.7,895.0 L965.6,893.2 L966.4,891.4 L967.2,889.6 L968.1,887.7 L968.9,885.9 L969.7,884.1 L970.5,882.3 L971.3,880.4 L972.1,878.6 L972.9,876.7 L973.7,874.9 L974.5,873.1 L975.3,871.2 L976.1,869.4 L976.9,867.6 L977.7,865.7 L978.5,863.9 L979.3,862.1 L980.0,860.2 L980.8,858.4 L981.6,856.6 M999.9,813.2 L1000.6,811.4 L1001.4,809.5 L1002.1,807.7 L1002.9,805.8 L1003.6,804.0 L1004.4,802.1 L1005.1,800.3 L1005.9,798.4 L1006.6,796.6 L1007.4,794.7 L1008.2,792.9 L1008.9,791.0 L1009.7,789.1 L1010.4,787.3 L1011.2,785.4 L1011.9,783.6 L1012.7,781.7 L1013.4,779.9 L1014.1,778.0 L1014.8,776.1 L1015.6,774.3 L1016.3,772.4 L1017.0,770.5 L1017.7,768.7 L1018.4,766.8 L1019.1,764.9 L1019.9,763.1 L1020.6,761.2 L1021.3,759.3 L1022.0,757.4 L1022.7,755.6 L1023.5,753.7 L1024.2,751.8 L1024.9,750.0 L1025.6,748.1 L1026.3,746.2 L1027.0,744.4 L1027.8,742.5 L1028.5,740.6 L1029.2,738.8 L1029.9,736.9 L1030.6,735.0 L1031.3,733.2 L1032.1,731.3 L1032.8,729.4 L1033.5,727.6 L1034.2,725.7 L1034.9,723.8 L1035.6,721.9 L1036.3,720.0 L1037.0,718.2 L1037.7,716.3 L1038.4,714.4 L1039.1,712.5 L1039.8,710.6 L1040.5,708.8 L1041.2,706.9 L1041.9,705.0 L1042.6,703.1 L1043.3,701.2 L1044.0,699.3 L1044.6,697.5 L1045.3,695.6 L1046.0,693.7 L1046.7,691.8 L1047.4,689.9 L1048.1,688.1 L1048.5,687.1 M1064.5,642.7 L1065.1,640.8 L1065.8,638.9 L1066.5,637.0 L1067.2,635.1 L1067.8,633.2 L1068.5,631.3 L1069.2,629.4 L1069.8,627.5 L1070.5,625.6 L1071.2,623.6 L1071.8,621.7 L1072.5,619.8 L1073.2,617.9 L1073.8,616.0 L1074.5,614.1 L1075.2,612.2 L1075.8,610.3 L1076.5,608.4 L1077.2,606.5 L1077.8,604.6 L1078.5,602.7 L1079.2,600.8 L1079.8,598.9 L1080.4,597.0 L1081.1,595.1 L1081.7,593.2 L1082.4,591.3 L1083.0,589.4 L1083.7,587.5 L1084.3,585.6 L1084.9,583.7 L1085.6,581.8 L1086.2,579.8 L1086.9,577.9 L1087.5,576.0 L1088.2,574.1 L1088.8,572.2 L1089.5,570.3 L1090.1,568.4 L1090.7,566.5 L1091.4,564.6 L1092.0,562.7 L1092.7,560.8 L1093.3,558.9 L1094.0,557.0 L1094.6,555.0 L1095.2,553.1 L1095.9,551.2 L1096.5,549.3 L1097.2,547.4 L1097.8,545.5 L1098.5,543.6 L1099.1,541.7 L1099.8,539.8 L1100.4,537.9 L1101.0,536.0 L1101.7,534.1 L1102.3,532.2 L1103.0,530.2 L1103.6,528.3 L1104.3,526.4 L1104.9,524.5 L1105.5,522.6 L1106.2,520.7 L1106.8,518.8 L1107.5,516.9 L1108.1,515.0 L1108.8,513.1 L1109.4,511.2 L1110.0,509.3 L1110.7,507.3 L1111.3,505.4 L1112.0,503.5 L1112.6,501.6 L1113.3,499.7 L1113.9,497.8 L1114.6,495.9 L1114.7,495.4 M1129.7,450.7 L1130.3,448.8 L1130.9,446.9 L1131.6,445.0 L1132.2,443.1 L1132.8,441.2 L1133.5,439.3 L1134.1,437.4 L1134.7,435.5 L1135.3,433.6 L1136.0,431.7 L1136.6,429.8 L1137.2,427.9 L1137.9,426.0 L1138.5,424.1 L1139.1,422.2 L1139.7,420.3 L1140.4,418.4 L1141.0,416.4 L1141.6,414.5 L1142.3,412.6 L1142.9,410.7 L1143.5,408.8 L1144.2,406.9 L1144.8,405.0 L1145.4,403.1 L1146.0,401.2 L1146.7,399.3 L1147.3,397.4 L1147.9,395.5 L1148.6,393.6 L1149.2,391.7 L1149.8,389.8 L1150.5,387.9 L1151.1,386.0 L1151.7,384.1 L1152.3,382.2 L1153.0,380.3 L1153.6,378.4 L1154.2,376.5 L1154.9,374.6 L1155.5,372.7 L1156.1,370.8 L1156.7,368.9 L1157.4,367.0 L1158.0,365.1 L1158.6,363.2 L1159.3,361.3 L1159.9,359.4 L1160.5,357.5 L1161.2,355.6 L1161.8,353.7 L1162.4,351.8 L1163.0,349.9 L1163.7,348.0 L1164.3,346.1 L1164.9,344.2 L1165.6,342.3 L1166.2,340.4 L1166.9,338.5 L1167.6,336.6 L1168.3,334.7 L1169.0,332.8 L1169.7,330.9 L1170.3,329.0 L1171.0,327.2 L1171.7,325.3 L1172.4,323.4 L1173.1,321.5 L1173.8,319.6 L1174.5,317.7 L1175.2,315.8 L1175.9,313.9 L1176.5,312.0 L1177.2,310.1 L1177.9,308.2 L1178.6,306.3 L1179.3,304.4 L1179.8,303.0 M1196.6,259.0 L1197.4,257.1 L1198.1,255.2 L1198.9,253.4 L1199.6,251.5 L1200.3,249.7 L1201.1,247.8 L1201.8,246.0 L1202.6,244.1 L1203.3,242.2 L1204.1,240.4 L1204.8,238.5 L1205.5,236.7 L1206.3,234.8 L1207.0,232.9 L1207.8,231.1 L1208.5,229.2 L1209.2,227.4 L1210.0,225.5 L1210.8,223.7 L1211.6,221.8 L1212.4,220.0 L1213.2,218.1 L1214.0,216.3 L1214.8,214.4 L1215.6,212.6 L1216.4,210.8 L1217.2,208.9 L1218.0,207.1 L1218.8,205.2 L1219.6,203.4 L1220.4,201.5 L1221.2,199.7 L1222.0,197.8 L1222.8,196.0 L1223.7,194.1 L1224.5,192.3 L1225.3,190.5 L1226.1,188.6 L1226.9,186.8 L1227.7,184.9 L1228.5,183.1 L1229.3,181.2 L1230.1,179.4 L1230.9,177.5 L1231.7,175.7 L1232.7,173.9 L1233.6,172.2 L1234.6,170.4 L1235.6,168.6 L1236.5,166.9 L1237.5,165.1 L1238.5,163.3 L1239.5,161.6 L1240.4,159.8 L1241.4,158.0 L1242.4,156.3 L1243.4,154.5 L1244.3,152.8 L1245.3,151.0 L1246.3,149.2 L1247.2,147.5 L1248.2,145.7 L1249.2,143.9 L1250.2,142.2 L1251.1,140.4 L1252.1,138.6 L1253.1,136.9 L1254.2,135.2 L1255.4,133.6 L1256.6,132.0 L1257.8,130.4 L1259.0,128.8 L1260.2,127.2 L1261.5,125.6 L1262.7,124.0 L1263.9,122.4 L1265.1,120.7 L1266.3,119.1 L1267.5,117.5 L1268.8,115.9 L1270.0,114.3 L1271.2,112.7 L1272.4,111.1 L1273.6,109.5 L1274.8,107.9 L1276.1,106.3 L1277.3,104.7 L1278.5,103.1 L1279.7,101.4 L1280.9,99.8 L1282.1,98.2 L1283.3,96.6 L1284.6,95.0 L1285.8,93.4 L1287.0,91.7 L1288.2,90.1 L1289.4,88.5 L1290.6,86.9 L1291.9,85.3 L1293.1,83.7 L1294.3,82.0 L1295.5,80.4 L1296.7,78.8 L1298.2,77.4 L1299.8,76.3 L1301.5,75.2 L1303.1,74.0 L1304.8,72.9 L1306.4,71.8 L1308.1,70.6 L1309.7,69.5 L1311.4,68.4 L1313.0,67.2 L1314.7,66.1 L1316.3,65.0 L1318.0,63.8 L1319.7,62.8 L1321.5,62.0 L1323.4,61.2 L1325.3,60.4 L1327.1,59.7 L1329.0,58.9 L1330.8,58.1 L1332.7,57.3 L1334.6,56.5 L1336.4,55.7 L1338.3,55.0 L1340.2,54.2 L1342.1,53.5 L1344.0,52.9 L1345.9,52.3 L1347.9,51.7 L1349.8,51.1 L1351.8,50.5 L1353.7,49.9 L1355.7,49.3 L1357.6,48.7 L1359.6,48.1 L1361.5,47.5 L1363.5,47.0 L1365.5,46.7 L1367.4,46.4 L1369.4,46.1 L1371.4,45.9 L1373.4,45.6 L1375.4,45.3 L1377.4,45.0 L1379.4,44.8 L1381.4,44.5 L1383.4,44.2 L1385.4,44.0 L1387.4,43.9 L1389.4,43.9 L1391.5,43.8 L1393.5,43.7 L1395.5,43.7 L1397.6,43.6 L1399.6,43.6 L1401.6,43.5 L1403.7,43.4 L1405.7,43.4 L1407.7,43.3 L1409.8,43.3 L1411.8,43.3 L1413.9,43.2 L1415.9,43.2 L1417.9,43.1 L1420.0,43.1 L1422.0,43.1 L1424.0,43.0 L1426.1,43.0 L1428.1,43.0 L1430.1,42.9 L1432.2,42.9 L1434.2,42.9 L1436.2,42.9 L1438.3,42.9 L1440.3,42.9 L1442.4,42.9 L1444.4,42.8 L1446.4,42.8 L1448.5,42.8 L1450.5,42.8 L1452.5,42.8 L1454.6,42.8 L1456.6,42.8 L1458.6,42.8 L1460.7,42.8 L1462.7,42.8 L1464.7,42.8 L1466.8,42.8 L1468.8,42.8 L1470.8,42.8 L1472.9,42.8 L1474.9,42.8 L1477.0,42.8 L1479.0,42.8 L1481.0,42.8 L1483.1,42.8 L1485.1,42.8 L1487.1,42.8 L1489.2,42.8 L1491.2,42.8 L1493.2,42.8 L1495.3,42.8 L1497.3,42.8 L1499.3,42.8 L1501.4,42.8 L1503.4,42.8 L1505.5,42.8 L1507.5,42.8 L1509.5,42.8 L1511.6,42.8 L1513.6,42.8 L1515.6,42.8 L1517.7,42.8 L1519.7,42.8 L1521.7,42.8 L1523.8,42.8 L1525.8,42.8 L1527.8,42.8 L1529.9,42.8 L1531.9,42.8 L1533.9,42.8 L1536.0,42.8 L1538.0,42.8 L1540.1,42.8 L1542.1,42.8 L1544.1,42.8 L1546.2,42.8 L1548.2,42.8 L1550.2,42.8 L1552.3,42.8 L1554.3,42.8 L1556.3,42.8 L1558.4,42.8 L1560.4,42.8 L1562.4,42.8 L1564.5,42.8 L1566.5,42.8 L1568.6,42.8 L1570.6,42.8 L1572.6,42.8 L1574.7,42.8 L1576.7,42.8 L1578.7,42.8 L1580.8,42.8 L1582.8,42.8 L1584.8,42.8 L1586.9,42.8 L1588.9,42.8 L1590.9,42.8 L1593.0,42.8 L1595.0,42.8 L1597.0,42.8 L1599.1,42.8 L1601.1,42.8 L1603.2,42.8 L1605.2,42.8 L1607.2,42.8 L1609.3,42.8 L1611.3,42.8 L1613.3,42.8 L1615.4,42.8 L1617.4,42.8 L1619.4,42.8 L1621.5,42.8 L1623.5,42.8 L1625.5,42.8 L1627.6,42.8 L1629.6,42.8 L1631.7,42.8 L1633.7,42.8 L1635.7,42.8 L1637.8,42.8 L1639.8,42.8 L1641.8,42.8 L1643.9,42.8 L1645.9,42.8 L1647.9,42.8 L1650.0,42.8 L1652.0,42.8 L1654.0,42.8 L1656.1,42.8 L1658.1,42.8 L1660.1,42.8 L1662.2,42.8 L1664.2,42.8 L1666.3,42.8 L1668.3,42.8 L1670.3,42.8 L1672.4,42.8 L1674.4,42.8 L1676.4,42.8 L1678.5,42.8 L1680.5,42.8 L1682.5,42.8 L1684.6,42.8 L1686.6,42.8 L1688.6,42.8 L1690.7,42.8 L1692.7,42.8 L1694.7,42.8 L1696.8,42.8 L1698.8,42.8 L1700.9,42.8 L1702.9,42.8 L1704.9,42.8 L1707.0,42.8 L1709.0,42.8 L1711.0,42.8 L1713.1,42.8 L1715.1,42.8 L1717.1,42.8 L1719.2,42.8 L1721.2,42.8 L1723.2,42.8 L1725.3,42.8 L1727.3,42.8 L1729.4,42.8 L1731.4,42.8 L1733.4,42.8 L1735.5,42.8 L1737.5,42.8 L1739.5,42.8 L1741.6,42.8 L1743.6,42.8 L1745.6,42.8 L1747.7,42.8 L1749.7,42.8 L1751.7,42.8 L1753.8,42.8 L1755.8,42.8 L1757.8,42.8 L1759.9,42.8 L1761.9,42.8 L1764.0,42.8 L1766.0,42.8 L1768.0,42.8 L1770.1,42.8 L1772.1,42.8 L1774.1,42.8 L1776.2,42.8 L1778.2,42.8 L1780.2,42.8 L1782.3,42.8 L1784.3,42.8 L1786.3,42.8 L1788.4,42.8 L1790.4,42.8 L1792.5,42.8 L1794.5,42.8 L1796.5,42.8 L1798.6,42.8 L1800.6,42.8 L1802.6,42.8 L1804.7,42.8 L1806.7,42.8 L1808.7,42.8 L1810.8,42.8 L1812.8,42.8 L1814.8,42.8 L1816.9,42.8 L1818.9,42.8 L1820.9,42.8 L1823.0,42.8 L1825.0,42.8 L1827.1,42.8 L1829.1,42.8 L1831.1,42.8 L1833.2,42.8 L1835.2,42.8 L1837.2,42.8 L1839.3,42.8 L1841.3,42.8 L1843.3,42.8 L1845.4,42.8 L1847.4,42.8 L1849.4,42.8 L1851.5,42.8 L1853.5,42.8 L1855.6,42.8 L1857.6,42.8 L1859.6,42.8 L1861.7,42.8 L1863.7,42.8 L1865.7,42.8 L1867.8,42.8 L1869.8,42.8 L1871.8,42.8 L1873.9,42.8 L1875.9,42.8 L1877.9,42.8 L1880.0,42.8 L1882.0,42.8 L1884.0,42.8 L1886.1,42.8 L1888.1,42.8 L1890.2,42.8 L1892.2,42.8 L1894.2,42.8 L1896.3,42.8 L1898.3,42.8 L1900.3,42.8 L1902.4,42.8 L1904.4,42.8 L1906.4,42.8 L1908.5,42.8 L1910.0,42.8" fill="none" stroke="#0000ff" stroke-width="6.9" stroke-linecap="round" stroke-linejoin="round"/><circle cx="203.3" cy="1451.0" r="14.40" fill="#fff" stroke="#0000ff" stroke-width="5.0"/><path d="M201.1,1434.2 A16.9,16.9 0 1 1 201.1,1467.8 Z" fill="#0000ff"/><circle cx="268.9" cy="1451.0" r="14.40" fill="#fff" stroke="#0000ff" stroke-width="5.0"/><path d="M266.7,1434.2 A16.9,16.9 0 1 1 266.7,1467.8 Z" fill="#0000ff"/><circle cx="334.6" cy="1451.0" r="14.40" fill="#fff" stroke="#0000ff" stroke-width="5.0"/><path d="M332.4,1434.2 A16.9,16.9 0 1 1 332.4,1467.8 Z" fill="#0000ff"/><circle cx="400.2" cy="1451.0" r="14.40" fill="#fff" stroke="#0000ff" stroke-width="5.0"/><path d="M398.0,1434.2 A16.9,16.9 0 1 1 398.0,1467.8 Z" fill="#0000ff"/><circle cx="465.8" cy="1436.0" r="14.40" fill="#fff" stroke="#0000ff" stroke-width="5.0"/><path d="M463.6,1419.2 A16.9,16.9 0 1 1 463.6,1452.8 Z" fill="#0000ff"/><circle cx="531.5" cy="1393.0" r="14.40" fill="#fff" stroke="#0000ff" stroke-width="5.0"/><path d="M529.3,1376.2 A16.9,16.9 0 1 1 529.3,1409.8 Z" fill="#0000ff"/><circle cx="597.1" cy="1343.0" r="14.40" fill="#fff" stroke="#0000ff" stroke-width="5.0"/><path d="M594.9,1326.2 A16.9,16.9 0 1 1 594.9,1359.8 Z" fill="#0000ff"/><circle cx="662.8" cy="1301.0" r="14.40" fill="#fff" stroke="#0000ff" stroke-width="5.0"/><path d="M660.6,1284.2 A16.9,16.9 0 1 1 660.6,1317.8 Z" fill="#0000ff"/><circle cx="728.4" cy="1256.0" r="14.40" fill="#fff" stroke="#0000ff" stroke-width="5.0"/><path d="M726.2,1239.2 A16.9,16.9 0 1 1 726.2,1272.8 Z" fill="#0000ff"/><circle cx="794.1" cy="1192.0" r="14.40" fill="#fff" stroke="#0000ff" stroke-width="5.0"/><path d="M791.9,1175.2 A16.9,16.9 0 1 1 791.9,1208.8 Z" fill="#0000ff"/><circle cx="859.7" cy="1097.0" r="14.40" fill="#fff" stroke="#0000ff" stroke-width="5.0"/><path d="M857.5,1080.2 A16.9,16.9 0 1 1 857.5,1113.8 Z" fill="#0000ff"/><circle cx="925.3" cy="978.0" r="14.40" fill="#fff" stroke="#0000ff" stroke-width="5.0"/><path d="M923.1,961.2 A16.9,16.9 0 1 1 923.1,994.8 Z" fill="#0000ff"/><circle cx="991.0" cy="835.0" r="14.40" fill="#fff" stroke="#0000ff" stroke-width="5.0"/><path d="M988.8,818.2 A16.9,16.9 0 1 1 988.8,851.8 Z" fill="#0000ff"/><circle cx="1056.6" cy="665.0" r="14.40" fill="#fff" stroke="#0000ff" stroke-width="5.0"/><path d="M1054.4,648.2 A16.9,16.9 0 1 1 1054.4,681.8 Z" fill="#0000ff"/><circle cx="1122.3" cy="473.0" r="14.40" fill="#fff" stroke="#0000ff" stroke-width="5.0"/><path d="M1120.1,456.2 A16.9,16.9 0 1 1 1120.1,489.8 Z" fill="#0000ff"/><circle cx="1187.9" cy="280.8" r="14.40" fill="#fff" stroke="#0000ff" stroke-width="5.0"/><path d="M1185.7,264.0 A16.9,16.9 0 1 1 1185.7,297.6 Z" fill="#0000ff"/><circle cx="1253.6" cy="136.0" r="14.40" fill="#fff" stroke="#0000ff" stroke-width="5.0"/><path d="M1251.4,119.2 A16.9,16.9 0 1 1 1251.4,152.8 Z" fill="#0000ff"/><circle cx="1319.2" cy="63.0" r="14.40" fill="#fff" stroke="#0000ff" stroke-width="5.0"/><path d="M1317.0,46.2 A16.9,16.9 0 1 1 1317.0,79.8 Z" fill="#0000ff"/><circle cx="1384.8" cy="44.0" r="14.40" fill="#fff" stroke="#0000ff" stroke-width="5.0"/><path d="M1382.6,27.2 A16.9,16.9 0 1 1 1382.6,60.8 Z" fill="#0000ff"/><circle cx="1450.5" cy="42.8" r="14.40" fill="#fff" stroke="#0000ff" stroke-width="5.0"/><path d="M1448.3,26.0 A16.9,16.9 0 1 1 1448.3,59.6 Z" fill="#0000ff"/><circle cx="1516.1" cy="42.8" r="14.40" fill="#fff" stroke="#0000ff" stroke-width="5.0"/><path d="M1513.9,26.0 A16.9,16.9 0 1 1 1513.9,59.6 Z" fill="#0000ff"/><circle cx="1581.8" cy="42.8" r="14.40" fill="#fff" stroke="#0000ff" stroke-width="5.0"/><path d="M1579.6,26.0 A16.9,16.9 0 1 1 1579.6,59.6 Z" fill="#0000ff"/><circle cx="1647.4" cy="42.8" r="14.40" fill="#fff" stroke="#0000ff" stroke-width="5.0"/><path d="M1645.2,26.0 A16.9,16.9 0 1 1 1645.2,59.6 Z" fill="#0000ff"/><circle cx="1713.1" cy="42.8" r="14.40" fill="#fff" stroke="#0000ff" stroke-width="5.0"/><path d="M1710.9,26.0 A16.9,16.9 0 1 1 1710.9,59.6 Z" fill="#0000ff"/><circle cx="1778.7" cy="42.8" r="14.40" fill="#fff" stroke="#0000ff" stroke-width="5.0"/><path d="M1776.5,26.0 A16.9,16.9 0 1 1 1776.5,59.6 Z" fill="#0000ff"/><circle cx="1844.4" cy="42.8" r="14.40" fill="#fff" stroke="#0000ff" stroke-width="5.0"/><path d="M1842.2,26.0 A16.9,16.9 0 1 1 1842.2,59.6 Z" fill="#0000ff"/><circle cx="1910.0" cy="42.8" r="14.40" fill="#fff" stroke="#0000ff" stroke-width="5.0"/><path d="M1907.8,26.0 A16.9,16.9 0 1 1 1907.8,59.6 Z" fill="#0000ff"/></g></g>
<g id="gbfs-cumulative"><g clip-path="url(#plot)"><path d="M220.8,1451.0 L222.8,1451.0 L224.8,1451.0 L226.8,1451.0 L228.8,1451.0 L230.9,1451.0 L232.9,1451.0 L234.9,1451.0 L236.9,1451.0 L238.9,1451.0 L241.0,1451.0 L243.0,1451.0 L245.0,1451.0 L247.0,1451.0 L249.0,1451.0 L251.1,1451.0 L253.1,1451.0 L255.1,1451.0 L257.1,1451.0 L259.1,1451.0 L261.2,1451.0 L263.2,1451.0 L265.2,1451.0 L267.2,1451.0 L269.2,1451.0 L271.3,1451.0 L273.3,1451.0 L275.3,1451.0 L277.3,1451.0 L279.3,1451.0 L281.4,1451.0 L283.4,1451.0 L285.4,1451.0 L287.4,1451.0 L289.4,1451.0 L291.5,1451.0 L293.5,1451.0 L295.5,1451.0 L297.5,1451.0 L299.5,1451.0 L301.6,1451.0 L303.6,1451.0 L305.6,1451.0 L307.6,1451.0 L309.6,1451.0 L311.7,1451.0 L313.7,1451.0 L315.7,1451.0 L317.7,1451.0 L319.7,1451.0 L321.8,1451.0 L323.8,1451.0 L325.8,1451.0 L327.8,1451.0 L329.8,1451.0 L331.9,1451.0 L333.9,1451.0 L335.9,1451.0 L337.9,1451.0 L339.9,1451.0 L342.0,1451.0 L344.0,1451.0 L346.0,1451.0 L348.0,1451.0 L350.0,1451.0 L352.1,1451.0 L354.1,1451.0 L356.1,1451.0 L358.1,1451.0 L360.1,1451.0 L362.2,1451.0 L364.2,1451.0 L366.2,1451.0 L368.2,1451.0 L370.2,1451.0 L372.3,1451.0 L374.3,1451.0 L376.3,1451.0 L378.3,1451.0 L380.3,1451.0 L382.4,1451.0 L384.4,1451.0 L386.4,1451.0 L388.4,1451.0 L390.4,1451.0 L392.5,1451.0 L394.5,1451.0 L396.5,1451.0 L398.5,1451.0 L400.5,1451.0 L402.6,1451.0 L404.6,1451.0 L406.6,1451.0 L408.6,1451.0 L410.6,1451.0 L412.6,1451.0 L414.7,1451.0 L416.7,1451.0 L418.7,1451.0 L420.7,1451.0 L422.7,1451.0 L424.8,1451.0 L426.8,1451.0 L428.8,1451.0 L430.8,1451.0 L432.8,1451.0 L434.9,1451.0 L436.9,1451.0 L438.9,1451.0 L440.9,1451.0 L442.9,1451.0 L445.0,1451.0 L447.0,1451.0 L449.0,1451.0 L451.0,1451.0 L453.0,1451.0 L455.1,1451.0 L457.1,1451.0 L459.1,1451.0 L461.1,1450.9 L463.1,1450.9 L465.2,1450.9 L467.2,1450.8 L469.2,1450.8 L471.2,1450.8 L473.2,1450.7 L475.3,1450.7 L477.3,1450.7 L479.3,1450.7 L481.3,1450.6 L483.3,1450.6 L485.4,1450.5 L487.4,1450.4 L489.4,1450.3 L491.4,1450.3 L493.4,1450.2 L495.5,1450.1 L497.5,1450.0 L499.5,1449.9 L501.5,1449.8 L503.5,1449.8 L505.6,1449.7 L507.6,1449.6 L509.6,1449.5 L511.6,1449.4 L513.6,1449.3 L515.7,1449.2 L517.7,1449.0 L519.7,1448.9 L521.7,1448.8 L523.7,1448.7 L525.8,1448.6 L527.8,1448.5 L529.8,1448.3 L531.8,1448.2 L533.8,1448.1 L535.9,1448.0 L537.9,1447.8 L539.9,1447.7 L541.9,1447.5 L543.9,1447.4 L546.0,1447.2 L548.0,1447.1 L550.0,1446.9 L552.0,1446.8 L554.0,1446.6 L556.1,1446.5 L558.1,1446.3 L560.1,1446.2 L562.1,1446.0 L564.1,1445.7 L566.1,1445.4 L568.1,1445.1 L570.0,1444.8 L572.0,1444.5 L574.0,1444.2 L576.0,1443.9 L578.0,1443.6 L580.0,1443.3 L581.9,1443.0 L583.9,1442.7 L585.9,1442.4 L587.9,1442.1 L589.8,1441.6 L591.8,1441.0 L593.7,1440.4 L595.7,1439.8 L597.6,1439.2 L599.6,1438.6 L601.5,1438.0 L603.4,1437.4 L605.4,1436.8 L607.3,1436.2 L609.3,1435.6 L611.2,1435.0 L613.2,1434.4 L615.1,1433.8 L617.0,1433.1 L618.8,1432.3 L620.7,1431.5 L622.6,1430.8 L624.5,1430.0 L626.4,1429.3 L628.2,1428.5 L630.1,1427.8 L632.0,1427.0 L633.9,1426.2 L635.7,1425.5 L637.6,1424.7 L639.5,1424.0 L641.3,1423.2 L643.2,1422.3 L645.0,1421.5 L646.8,1420.6 L648.6,1419.7 L650.4,1418.9 L652.2,1418.0 L654.0,1417.2 L655.8,1416.3 L657.6,1415.4 L659.4,1414.6 L661.3,1413.7 L663.1,1412.8 L664.9,1412.0 L666.7,1411.1 L668.4,1410.0 L670.1,1408.9 L671.7,1407.8 L673.4,1406.6 L675.1,1405.5 L676.7,1404.4 L678.4,1403.2 L680.1,1402.1 L681.7,1401.0 L683.4,1399.8 L685.1,1398.7 L686.7,1397.5 L688.4,1396.4 L690.1,1395.3 L691.7,1394.1 L693.4,1393.0 L695.0,1391.8 L696.7,1390.6 L698.3,1389.4 L700.0,1388.2 L701.6,1387.1 L703.2,1385.9 L704.9,1384.7 L706.5,1383.5 L708.2,1382.3 L709.8,1381.1 L711.5,1379.9 L713.1,1378.8 L714.7,1377.6 L716.4,1376.4 L718.0,1375.2 L719.7,1374.0 L721.3,1372.8 L722.9,1371.6 L724.5,1370.4 L726.1,1369.2 L727.7,1367.9 L729.4,1366.7 L731.0,1365.5 L732.6,1364.3 L734.2,1363.1 L735.8,1361.9 L737.4,1360.7 L739.1,1359.5 L740.7,1358.2 L742.3,1357.0 L743.9,1355.8 L745.5,1354.6 L746.9,1353.2 L748.2,1351.6 L749.5,1350.1 L750.8,1348.6 L752.2,1347.1 L753.5,1345.6 L754.8,1344.1 L756.1,1342.6 L757.4,1341.0 L758.7,1339.5 L760.0,1338.0 L761.3,1336.5 L762.7,1335.0 L764.0,1333.5 L765.3,1332.0 L766.6,1330.4 L767.9,1328.9 L769.2,1327.4 L770.5,1325.9 L771.8,1324.4 L773.2,1322.9 L774.5,1321.4 L775.9,1319.9 L777.2,1318.4 L778.6,1316.9 L779.9,1315.4 L781.3,1314.0 L782.6,1312.5 L784.0,1311.0 L785.3,1309.5 L786.7,1308.0 L788.0,1306.5 L789.3,1305.0 L790.7,1303.6 L792.0,1302.1 L793.4,1300.6 L794.7,1299.1 L796.1,1297.6 L797.4,1296.1 L798.8,1294.6 L800.1,1293.1 L801.5,1291.7 L802.8,1290.2 L804.2,1288.7 L805.5,1287.2 L806.8,1285.7 L808.2,1284.2 L809.5,1282.7 L810.9,1281.2 L812.2,1279.8 L813.6,1278.3 L814.9,1276.8 L816.3,1275.3 L817.6,1273.8 L819.0,1272.3 L820.3,1270.8 L821.7,1269.3 L823.0,1267.9 L824.4,1266.4 L825.5,1264.8 L826.6,1263.1 L827.8,1261.4 L828.9,1259.8 L830.0,1258.1 L831.1,1256.5 L832.2,1254.8 L833.3,1253.1 L834.5,1251.5 L835.6,1249.8 L836.7,1248.2 L837.8,1246.5 L838.9,1244.8 L840.1,1243.2 L841.2,1241.5 L842.3,1239.9 L843.4,1238.2 L844.5,1236.5 L845.6,1234.9 L846.8,1233.2 L847.9,1231.6 L849.0,1229.9 L850.1,1228.2 L851.2,1226.6 L852.4,1224.9 L853.5,1223.3 L854.7,1221.6 L855.9,1220.0 L857.0,1218.3 L858.2,1216.7 L859.3,1215.0 L860.5,1213.4 L861.6,1211.8 L862.8,1210.1 L863.9,1208.5 L865.1,1206.8 L866.2,1205.2 L867.4,1203.5 L868.5,1201.9 L869.7,1200.2 L870.9,1198.6 L872.0,1196.9 L873.2,1195.3 L874.3,1193.6 L875.5,1192.0 L876.6,1190.3 L877.8,1188.7 L879.0,1187.0 L880.2,1185.4 L881.3,1183.8 L882.5,1182.1 L883.7,1180.5 L884.9,1178.8 L886.1,1177.2 L887.2,1175.6 L888.4,1173.9 L889.6,1172.3 L890.8,1170.6 L892.0,1169.0 L893.1,1167.4 L894.3,1165.7 L895.5,1164.1 L896.7,1162.4 L897.9,1160.8 L899.0,1159.2 L900.2,1157.5 L901.4,1155.9 L902.6,1154.2 L903.7,1152.6 L904.6,1150.8 L905.5,1149.0 L906.4,1147.2 L907.2,1145.4 L908.1,1143.6 L909.0,1141.8 L909.9,1140.0 L910.8,1138.2 L911.7,1136.4 L912.6,1134.6 L913.5,1132.8 L914.4,1131.0 L915.3,1129.2 L916.1,1127.4 L917.0,1125.6 L917.9,1123.8 L918.8,1122.0 L919.3,1121.1 M940.8,1079.2 L941.8,1077.5 L942.7,1075.7 L943.7,1073.9 L944.6,1072.2 L945.6,1070.4 L946.5,1068.6 L947.5,1066.9 L948.4,1065.1 L949.4,1063.3 L950.3,1061.6 L951.2,1059.8 L952.2,1058.0 L953.1,1056.3 L954.1,1054.5 L955.0,1052.7 L956.0,1051.0 L956.9,1049.2 L957.8,1047.4 L958.6,1045.6 L959.5,1043.8 L960.4,1042.0 L961.3,1040.2 L962.2,1038.4 L963.1,1036.6 L964.0,1034.8 L964.9,1033.0 L965.8,1031.2 L966.7,1029.4 L967.5,1027.6 L968.4,1025.8 L969.3,1024.0 L970.2,1022.2 L971.1,1020.4 L972.0,1018.6 L972.9,1016.8 L973.8,1015.0 L974.7,1013.2 L975.6,1011.4 L976.4,1009.6 L977.3,1007.8 L978.2,1006.0 L979.1,1004.2 L980.0,1002.4 L980.9,1000.6 L981.8,998.8 L982.7,997.0 L983.5,995.2 L984.3,993.4 L985.2,991.6 L986.0,989.7 L986.9,987.9 L987.7,986.1 L988.5,984.3 L989.4,982.5 L990.2,980.6 L991.1,978.8 L991.9,977.0 L992.7,975.2 L993.6,973.3 L994.4,971.5 L995.3,969.7 L996.1,967.9 L996.9,966.1 L997.8,964.2 L998.6,962.4 M1017.7,919.3 L1018.5,917.4 L1019.3,915.6 L1020.1,913.8 L1020.8,911.9 L1021.6,910.1 L1022.4,908.2 L1023.2,906.4 L1024.0,904.5 L1024.8,902.7 L1025.5,900.8 L1026.3,899.0 L1027.1,897.1 L1027.9,895.3 L1028.7,893.4 L1029.5,891.6 L1030.2,889.7 L1031.0,887.9 L1031.8,886.0 L1032.6,884.2 L1033.4,882.4 L1034.2,880.5 L1034.9,878.7 L1035.7,876.8 L1036.4,874.9 L1037.1,873.0 L1037.9,871.2 L1038.6,869.3 L1039.3,867.4 L1040.1,865.6 L1040.8,863.7 L1041.5,861.8 L1042.3,860.0 L1043.0,858.1 L1043.7,856.2 L1044.5,854.4 L1045.2,852.5 L1046.0,850.6 L1046.7,848.7 L1047.4,846.9 L1048.2,845.0 L1048.9,843.1 L1049.6,841.3 L1050.4,839.4 L1051.1,837.5 L1051.8,835.7 L1052.6,833.8 L1053.3,831.9 L1054.0,830.1 L1054.8,828.2 L1055.5,826.3 L1056.2,824.4 L1057.0,822.6 L1057.7,820.7 L1058.4,818.8 L1059.2,817.0 L1059.9,815.1 L1060.6,813.2 L1061.4,811.4 L1062.1,809.5 L1062.8,807.6 L1063.5,805.7 L1064.2,803.9 L1064.9,802.0 L1065.6,800.1 L1066.3,798.2 L1067.0,796.4 L1067.7,794.5 L1068.4,792.6 L1069.1,790.7 L1069.8,788.9 L1070.5,787.0 L1071.2,785.1 L1071.9,783.2 L1072.6,781.4 L1073.3,779.5 L1074.0,777.6 L1074.7,775.7 L1075.4,773.9 L1076.1,772.0 L1076.8,770.1 L1077.5,768.2 L1078.2,766.4 L1078.9,764.5 L1079.0,764.0 M1095.1,719.7 L1095.7,717.8 L1096.4,715.9 L1097.1,714.0 L1097.7,712.1 L1098.4,710.2 L1099.1,708.3 L1099.7,706.4 L1100.4,704.5 L1101.1,702.6 L1101.7,700.7 L1102.4,698.8 L1103.1,696.9 L1103.7,695.0 L1104.4,693.1 L1105.0,691.2 L1105.7,689.3 L1106.4,687.4 L1107.0,685.5 L1107.7,683.6 L1108.4,681.7 L1109.0,679.8 L1109.7,677.9 L1110.4,676.0 L1111.0,674.1 L1111.7,672.2 L1112.4,670.3 L1113.0,668.4 L1113.7,666.5 L1114.3,664.6 L1114.9,662.7 L1115.6,660.8 L1116.2,658.9 L1116.8,657.0 L1117.5,655.1 L1118.1,653.2 L1118.7,651.3 L1119.4,649.3 L1120.0,647.4 L1120.6,645.5 L1121.3,643.6 L1121.9,641.7 L1122.5,639.8 L1123.2,637.9 L1123.8,636.0 L1124.4,634.1 L1125.1,632.2 L1125.7,630.3 L1126.3,628.4 L1127.0,626.5 L1127.6,624.6 L1128.2,622.7 L1128.9,620.8 L1129.5,618.8 L1130.1,616.9 L1130.8,615.0 L1131.4,613.1 L1132.0,611.2 L1132.7,609.3 L1133.3,607.4 L1133.9,605.5 L1134.6,603.6 L1135.2,601.7 L1135.8,599.8 L1136.5,597.9 L1137.1,596.0 L1137.7,594.1 L1138.4,592.2 L1139.0,590.3 L1139.6,588.4 L1140.3,586.5 L1140.9,584.6 L1141.5,582.6 L1142.2,580.7 L1142.8,578.8 L1143.4,576.9 L1144.1,575.0 L1144.7,573.1 L1145.3,571.2 L1145.9,569.3 L1146.6,567.4 L1147.2,565.5 L1147.8,563.6 L1148.5,561.7 L1149.1,559.8 L1149.7,557.9 L1150.4,556.0 L1151.0,554.1 L1151.6,552.2 L1152.3,550.3 L1152.9,548.4 L1153.5,546.5 L1154.2,544.6 L1154.8,542.7 L1155.4,540.8 L1156.1,538.9 L1156.7,537.0 L1157.3,535.1 L1158.0,533.2 L1158.6,531.3 M1173.4,486.6 L1174.0,484.7 L1174.6,482.8 L1175.3,480.9 L1175.9,479.0 L1176.5,477.1 L1177.1,475.2 L1177.8,473.3 L1178.4,471.4 L1179.0,469.5 L1179.6,467.6 L1180.3,465.7 L1180.9,463.8 L1181.5,461.9 L1182.1,460.0 L1182.8,458.0 L1183.4,456.1 L1184.0,454.2 L1184.6,452.3 L1185.3,450.4 L1185.9,448.5 L1186.5,446.6 L1187.1,444.7 L1187.8,442.8 L1188.4,440.9 L1189.0,439.0 L1189.6,437.1 L1190.3,435.2 L1190.9,433.3 L1191.5,431.4 L1192.1,429.5 L1192.8,427.6 L1193.4,425.7 L1194.0,423.7 L1194.7,421.8 L1195.3,419.9 L1195.9,418.0 L1196.5,416.1 L1197.2,414.2 L1197.8,412.3 L1198.4,410.4 L1199.1,408.5 L1199.7,406.5 L1200.3,404.6 L1200.9,402.7 L1201.6,400.8 L1202.2,398.9 L1202.8,397.0 L1203.5,395.1 L1204.1,393.2 L1204.7,391.3 L1205.3,389.4 L1206.0,387.4 L1206.6,385.5 L1207.2,383.6 L1207.9,381.7 L1208.5,379.8 L1209.1,377.9 L1209.7,376.0 L1210.4,374.1 L1211.0,372.2 L1211.6,370.2 L1212.3,368.3 L1212.9,366.4 L1213.5,364.5 L1214.2,362.6 L1214.8,360.7 L1215.4,358.8 L1216.0,356.9 L1216.7,355.0 L1217.3,353.0 L1217.9,351.1 L1218.6,349.2 L1219.2,347.3 L1219.9,345.4 L1220.6,343.6 L1221.3,341.7 L1222.0,339.8 L1222.7,337.9 L1223.4,336.0 L1224.1,334.1 L1224.8,332.2 L1225.5,330.4 L1226.2,328.5 L1226.9,326.6 L1227.6,324.7 L1228.3,322.8 L1229.0,320.9 L1229.7,319.0 L1230.4,317.1 L1231.1,315.3 L1231.8,313.4 L1232.5,311.5 L1233.2,309.6 L1233.9,307.7 L1234.6,305.8 L1235.2,303.9 L1235.9,302.1 L1236.6,300.2 M1254.6,256.4 L1255.4,254.6 L1256.3,252.8 L1257.1,250.9 L1257.9,249.1 L1258.8,247.3 L1259.6,245.4 L1260.4,243.6 L1261.3,241.8 L1262.1,239.9 L1262.9,238.1 L1263.8,236.3 L1264.6,234.4 L1265.4,232.6 L1266.3,230.8 L1267.1,228.9 L1267.9,227.1 L1268.8,225.2 L1269.6,223.4 L1270.4,221.6 L1271.3,219.7 L1272.2,217.9 L1273.1,216.1 L1273.9,214.3 L1274.8,212.5 L1275.7,210.7 L1276.6,208.9 L1277.5,207.1 L1278.3,205.3 L1279.2,203.5 L1280.1,201.7 L1281.0,199.9 L1281.9,198.1 L1282.8,196.3 L1283.6,194.5 L1284.5,192.7 L1285.4,190.9 L1286.3,189.1 L1287.2,187.3 L1288.1,185.5 L1288.9,183.6 L1289.8,181.8 L1290.7,180.0 L1291.6,178.2 L1292.5,176.4 L1293.4,174.6 L1294.2,172.8 L1295.1,171.0 L1296.0,169.2 L1296.9,167.4 L1297.8,165.6 L1298.6,163.8 L1299.5,162.0 L1300.4,160.2 L1301.3,158.4 L1302.2,156.6 L1303.1,154.8 L1303.9,153.0 L1304.8,151.2 L1305.7,149.4 L1306.6,147.6 L1307.5,145.8 L1308.4,144.0 L1309.2,142.2 L1310.1,140.4 L1311.0,138.6 L1311.9,136.8 L1312.8,135.0 L1313.7,133.2 L1314.5,131.4 L1315.4,129.6 L1316.3,127.8 L1317.2,126.0 L1318.1,124.2 L1318.9,122.4 L1319.8,120.6 L1320.7,118.8 L1321.6,117.0 L1322.5,115.2 L1323.4,113.4 L1324.6,111.9 L1326.0,110.4 L1327.4,108.9 L1328.8,107.5 L1330.1,106.0 L1331.5,104.5 L1332.9,103.1 L1334.3,101.6 L1335.7,100.1 L1337.1,98.6 L1338.4,97.2 L1339.8,95.7 L1341.2,94.2 L1342.6,92.7 L1344.0,91.3 L1345.3,89.8 L1346.7,88.3 L1348.1,86.8 L1349.5,85.4 L1350.9,83.9 L1352.3,82.5 L1353.7,81.1 L1355.2,79.6 L1356.6,78.2 L1358.0,76.8 L1359.4,75.3 L1360.8,73.9 L1362.3,72.5 L1363.7,71.0 L1365.1,69.6 L1366.5,68.2 L1367.9,66.7 L1369.4,65.3 L1370.8,63.9 L1372.2,62.4 L1373.6,61.0 L1375.0,59.6 L1376.5,58.3 L1378.3,57.4 L1380.1,56.4 L1381.9,55.5 L1383.7,54.6 L1385.4,53.7 L1387.2,52.8 L1389.0,51.9 L1390.8,50.9 L1392.6,50.0 L1394.3,49.1 L1396.1,48.2 L1397.9,47.3 L1399.7,46.4 L1401.5,45.5 L1403.4,45.0 L1405.4,44.9 L1407.4,44.8 L1409.4,44.7 L1411.4,44.6 L1413.5,44.5 L1415.5,44.4 L1417.5,44.3 L1419.5,44.2 L1421.5,44.1 L1423.6,44.0 L1425.6,43.9 L1427.6,43.8 L1429.6,43.8 L1431.6,43.7 L1433.7,43.7 L1435.7,43.6 L1437.7,43.5 L1439.7,43.5 L1441.7,43.4 L1443.8,43.4 L1445.8,43.3 L1447.8,43.3 L1449.8,43.2 L1451.8,43.1 L1453.9,43.1 L1455.9,43.0 L1457.9,43.0 L1459.9,43.0 L1461.9,43.0 L1464.0,43.0 L1466.0,42.9 L1468.0,42.9 L1470.0,42.9 L1472.0,42.9 L1474.1,42.9 L1476.1,42.8 L1478.1,42.8 L1480.1,42.8 L1482.1,42.8 L1484.2,42.8 L1486.2,42.8 L1488.2,42.8 L1490.2,42.8 L1492.2,42.8 L1494.3,42.8 L1496.3,42.8 L1498.3,42.8 L1500.3,42.8 L1502.3,42.8 L1504.4,42.8 L1506.4,42.8 L1508.4,42.8 L1510.4,42.8 L1512.4,42.8 L1514.5,42.8 L1516.5,42.8 L1518.5,42.8 L1520.5,42.8 L1522.5,42.8 L1524.6,42.8 L1526.6,42.8 L1528.6,42.8 L1530.6,42.8 L1532.6,42.8 L1534.7,42.8 L1536.7,42.8 L1538.7,42.8 L1540.7,42.8 L1542.7,42.8 L1544.8,42.8 L1546.8,42.8 L1548.8,42.8 L1550.8,42.8 L1552.8,42.8 L1554.9,42.8 L1556.9,42.8 L1558.9,42.8 L1560.9,42.8 L1562.9,42.8 L1564.9,42.8 L1567.0,42.8 L1569.0,42.8 L1571.0,42.8 L1573.0,42.8 L1575.0,42.8 L1577.1,42.8 L1579.1,42.8 L1581.1,42.8 L1583.1,42.8 L1585.1,42.8 L1587.2,42.8 L1589.2,42.8 L1591.2,42.8 L1593.2,42.8 L1595.2,42.8 L1597.3,42.8 L1599.3,42.8 L1601.3,42.8 L1603.3,42.8 L1605.3,42.8 L1607.4,42.8 L1609.4,42.8 L1611.4,42.8 L1613.4,42.8 L1615.4,42.8 L1617.5,42.8 L1619.5,42.8 L1621.5,42.8 L1623.5,42.8 L1625.5,42.8 L1627.6,42.8 L1629.6,42.8 L1631.6,42.8 L1633.6,42.8 L1635.6,42.8 L1637.7,42.8 L1639.7,42.8 L1641.7,42.8 L1643.7,42.8 L1645.7,42.8 L1647.8,42.8 L1649.8,42.8 L1651.8,42.8 L1653.8,42.8 L1655.8,42.8 L1657.9,42.8 L1659.9,42.8 L1661.9,42.8 L1663.9,42.8 L1665.9,42.8 L1668.0,42.8 L1670.0,42.8 L1672.0,42.8 L1674.0,42.8 L1676.0,42.8 L1678.1,42.8 L1680.1,42.8 L1682.1,42.8 L1684.1,42.8 L1686.1,42.8 L1688.2,42.8 L1690.2,42.8 L1692.2,42.8 L1694.2,42.8 L1696.2,42.8 L1698.3,42.8 L1700.3,42.8 L1702.3,42.8 L1704.3,42.8 L1706.3,42.8 L1708.4,42.8 L1710.4,42.8 L1712.4,42.8 L1714.4,42.8 L1716.4,42.8 L1718.5,42.8 L1720.5,42.8 L1722.5,42.8 L1724.5,42.8 L1726.5,42.8 L1728.6,42.8 L1730.6,42.8 L1732.6,42.8 L1734.6,42.8 L1736.6,42.8 L1738.7,42.8 L1740.7,42.8 L1742.7,42.8 L1744.7,42.8 L1746.7,42.8 L1748.8,42.8 L1750.8,42.8 L1752.8,42.8 L1754.8,42.8 L1756.8,42.8 L1758.9,42.8 L1760.9,42.8 L1762.9,42.8 L1764.9,42.8 L1766.9,42.8 L1769.0,42.8 L1771.0,42.8 L1773.0,42.8 L1775.0,42.8 L1777.0,42.8 L1779.0,42.8 L1781.1,42.8 L1783.1,42.8 L1785.1,42.8 L1787.1,42.8 L1789.1,42.8 L1791.2,42.8 L1793.2,42.8 L1795.2,42.8 L1797.2,42.8 L1799.2,42.8 L1801.3,42.8 L1803.3,42.8 L1805.3,42.8 L1807.3,42.8 L1809.3,42.8 L1811.4,42.8 L1813.4,42.8 L1815.4,42.8 L1817.4,42.8 L1819.4,42.8 L1821.5,42.8 L1823.5,42.8 L1825.5,42.8 L1827.5,42.8 L1829.5,42.8 L1831.6,42.8 L1833.6,42.8 L1835.6,42.8 L1837.6,42.8 L1839.6,42.8 L1841.7,42.8 L1843.7,42.8 L1845.7,42.8 L1847.7,42.8 L1849.7,42.8 L1851.8,42.8 L1853.8,42.8 L1855.8,42.8 L1857.8,42.8 L1859.8,42.8 L1861.9,42.8 L1863.9,42.8 L1865.9,42.8 L1867.9,42.8 L1869.9,42.8 L1872.0,42.8 L1874.0,42.8 L1875.0,42.8" fill="none" stroke="#000000" stroke-width="6.9" stroke-linecap="round" stroke-linejoin="round"/><circle cx="220.8" cy="1451.0" r="13.85" fill="#fff" stroke="#000" stroke-width="6.3"/><circle cx="299.5" cy="1451.0" r="13.85" fill="#fff" stroke="#000" stroke-width="6.3"/><circle cx="378.3" cy="1451.0" r="13.85" fill="#fff" stroke="#000" stroke-width="6.3"/><circle cx="457.1" cy="1451.0" r="13.85" fill="#fff" stroke="#000" stroke-width="6.3"/><circle cx="535.9" cy="1448.0" r="13.25" fill="#fff" stroke="#000" stroke-width="7.5"/><circle cx="614.6" cy="1434.0" r="13.25" fill="#fff" stroke="#000" stroke-width="7.5"/><circle cx="693.4" cy="1393.0" r="13.25" fill="#fff" stroke="#000" stroke-width="7.5"/><circle cx="772.2" cy="1324.0" r="13.25" fill="#fff" stroke="#000" stroke-width="7.5"/><circle cx="850.9" cy="1227.0" r="13.25" fill="#fff" stroke="#000" stroke-width="7.5"/><circle cx="929.7" cy="1100.0" r="13.25" fill="#fff" stroke="#000" stroke-width="7.5"/><circle cx="1008.5" cy="941.0" r="13.25" fill="#fff" stroke="#000" stroke-width="7.5"/><circle cx="1087.3" cy="742.0" r="13.25" fill="#fff" stroke="#000" stroke-width="7.5"/><circle cx="1166.0" cy="509.0" r="13.25" fill="#fff" stroke="#000" stroke-width="7.5"/><circle cx="1244.8" cy="278.0" r="13.25" fill="#fff" stroke="#000" stroke-width="7.5"/><circle cx="1323.6" cy="113.0" r="13.25" fill="#fff" stroke="#000" stroke-width="7.5"/><circle cx="1402.4" cy="45.0" r="13.85" fill="#fff" stroke="#000" stroke-width="6.3"/><circle cx="1481.1" cy="42.8" r="13.85" fill="#fff" stroke="#000" stroke-width="6.3"/><circle cx="1559.9" cy="42.8" r="13.85" fill="#fff" stroke="#000" stroke-width="6.3"/><circle cx="1638.7" cy="42.8" r="13.85" fill="#fff" stroke="#000" stroke-width="6.3"/><circle cx="1717.4" cy="42.8" r="13.85" fill="#fff" stroke="#000" stroke-width="6.3"/><circle cx="1796.2" cy="42.8" r="13.85" fill="#fff" stroke="#000" stroke-width="6.3"/><circle cx="1875.0" cy="42.8" r="13.85" fill="#fff" stroke="#000" stroke-width="6.3"/></g></g>
<g id="axes" stroke="#000" fill="none" stroke-linecap="butt"><line x1="159.5" y1="39.5" x2="159.5" y2="1454.2" stroke-width="7.0"/><line x1="1910.0" y1="39.5" x2="1910.0" y2="1454.2" stroke-width="6.2"/><line x1="156.0" y1="42.8" x2="1913.1" y2="42.8" stroke-width="6.6"/><line x1="156.0" y1="1451.0" x2="1913.1" y2="1451.0" stroke-width="6.4"/><line x1="131.5" y1="1451.0" x2="159.5" y2="1451.0" stroke-width="6.8"/><line x1="131.5" y1="1216.3" x2="159.5" y2="1216.3" stroke-width="6.8"/><line x1="131.5" y1="981.6" x2="159.5" y2="981.6" stroke-width="6.8"/><line x1="131.5" y1="746.9" x2="159.5" y2="746.9" stroke-width="6.8"/><line x1="131.5" y1="512.2" x2="159.5" y2="512.2" stroke-width="6.8"/><line x1="131.5" y1="277.5" x2="159.5" y2="277.5" stroke-width="6.8"/><line x1="131.5" y1="42.8" x2="159.5" y2="42.8" stroke-width="6.8"/><line x1="1910.0" y1="1451.0" x2="1936.6" y2="1451.0" stroke-width="6.9"/><line x1="1910.0" y1="1169.4" x2="1936.6" y2="1169.4" stroke-width="6.9"/><line x1="1910.0" y1="887.7" x2="1936.6" y2="887.7" stroke-width="6.9"/><line x1="1910.0" y1="606.1" x2="1936.6" y2="606.1" stroke-width="6.9"/><line x1="1910.0" y1="324.4" x2="1936.6" y2="324.4" stroke-width="6.9"/><line x1="1910.0" y1="42.8" x2="1936.6" y2="42.8" stroke-width="6.9"/><line x1="159.5" y1="1451.0" x2="159.5" y2="1478.8" stroke-width="6.2"/><line x1="597.1" y1="1451.0" x2="597.1" y2="1478.8" stroke-width="6.2"/><line x1="1034.8" y1="1451.0" x2="1034.8" y2="1478.8" stroke-width="6.2"/><line x1="1472.4" y1="1451.0" x2="1472.4" y2="1478.8" stroke-width="6.2"/><line x1="1910.0" y1="1451.0" x2="1910.0" y2="1478.8" stroke-width="6.2"/></g>
<g id="ticklabels"><text fill="#000"><tspan x="74.41" y="1473.00" textLength="39.19" lengthAdjust="spacingAndGlyphs">0</tspan></text><text fill="#000"><tspan x="75.64" y="1238.30" textLength="34.88" lengthAdjust="spacingAndGlyphs">1</tspan></text><text fill="#000"><tspan x="75.00" y="1003.60" textLength="38.00" lengthAdjust="spacingAndGlyphs">2</tspan></text><text fill="#000"><tspan x="74.88" y="768.90" textLength="38.00" lengthAdjust="spacingAndGlyphs">3</tspan></text><text fill="#000"><tspan x="75.25" y="534.20" textLength="38.00" lengthAdjust="spacingAndGlyphs">4</tspan></text><text fill="#000"><tspan x="74.88" y="299.50" textLength="38.00" lengthAdjust="spacingAndGlyphs">5</tspan></text><text fill="#000"><tspan x="75.02" y="64.80" textLength="37.71" lengthAdjust="spacingAndGlyphs">6</tspan></text><text fill="#000"><tspan x="1956.03" y="1473.00" textLength="37.64" lengthAdjust="spacingAndGlyphs">0</tspan></text><text fill="#000"><tspan x="1955.57" y="1191.36" textLength="75.62" lengthAdjust="spacingAndGlyphs">20</tspan></text><text fill="#000"><tspan x="1957.83" y="909.72" textLength="73.47" lengthAdjust="spacingAndGlyphs">40</tspan></text><text fill="#000"><tspan x="1956.13" y="628.08" textLength="75.03" lengthAdjust="spacingAndGlyphs">60</tspan></text><text fill="#000"><tspan x="1956.55" y="346.44" textLength="74.38" lengthAdjust="spacingAndGlyphs">80</tspan></text><text fill="#000"><tspan x="1954.77" y="64.80" textLength="112.59" lengthAdjust="spacingAndGlyphs">100</tspan></text><text fill="#000"><tspan x="112.11" y="1556.20" textLength="91.55" lengthAdjust="spacingAndGlyphs">0.1</tspan></text><text fill="#000"><tspan x="577.40" y="1556.20" textLength="36.10" lengthAdjust="spacingAndGlyphs">1</tspan></text><text fill="#000"><tspan x="996.75" y="1556.20" textLength="75.32" lengthAdjust="spacingAndGlyphs">10</tspan></text><text fill="#000"><tspan x="1416.92" y="1556.20" textLength="111.72" lengthAdjust="spacingAndGlyphs">100</tspan></text><text fill="#000"><tspan x="1836.12" y="1556.20" textLength="149.02" lengthAdjust="spacingAndGlyphs">1000</tspan></text></g>
<text fill="#000" id="xtitle"><tspan x="736.09" y="1637.90" textLength="245.88" lengthAdjust="spacingAndGlyphs">Particle</tspan> <tspan x="999.11" y="1637.90" textLength="114.94" lengthAdjust="spacingAndGlyphs">size</tspan> <tspan x="1130.50" y="1637.90" textLength="28.04" lengthAdjust="spacingAndGlyphs">(</tspan><tspan x="1160.70" y="1637.90" textLength="96.17" lengthAdjust="spacingAndGlyphs">μm</tspan><tspan x="1264.08" y="1631.80" textLength="79.78" lengthAdjust="spacingAndGlyphs" style="font-size:62px">）</tspan></text>
<text fill="#000" id="yltitle" transform="translate(71.00,0) rotate(-90)"><tspan x="-937.99" y="0.00" textLength="58.14" lengthAdjust="spacingAndGlyphs">V</tspan><tspan x="-886.40" y="0.00" textLength="191.98" lengthAdjust="spacingAndGlyphs">olume</tspan> <tspan x="-676.07" y="0.00" textLength="123.56" lengthAdjust="spacingAndGlyphs">(%)</tspan></text>
<text fill="#000" id="yrtitle" transform="translate(2117.50,0) rotate(-90)"><tspan x="-1123.23" y="0.00" textLength="367.66" lengthAdjust="spacingAndGlyphs">Cumulative</tspan> <tspan x="-738.40" y="0.00" textLength="228.17" lengthAdjust="spacingAndGlyphs">volume</tspan> <tspan x="-492.48" y="0.00" textLength="123.99" lengthAdjust="spacingAndGlyphs">(%)</tspan></text>
<g id="legend"><path d="M183.5,125.8 H242.5 M288,125.8 H348" stroke="#000" stroke-width="6.9" stroke-linecap="round" fill="none"/><circle cx="265.0" cy="125.6" r="13.50" fill="#fff" stroke="#000" stroke-width="7.0"/><text fill="#000"><tspan x="365.14" y="152.00" textLength="193.94" lengthAdjust="spacingAndGlyphs">GBFS</tspan> <tspan x="575.76" y="152.00" textLength="54.45" lengthAdjust="spacingAndGlyphs">D</tspan><tspan x="628.32" y="171.70" textLength="51.96" lengthAdjust="spacingAndGlyphs" style="font-size:50px">50</tspan><tspan x="677.01" y="152.00" textLength="211.02" lengthAdjust="spacingAndGlyphs">=13.48</tspan> <tspan x="907.28" y="152.00" textLength="97.71" lengthAdjust="spacingAndGlyphs">μm</tspan></text><path d="M183.5,233.6 H242.5 M288,233.6 H348" stroke="#0000ff" stroke-width="6.9" stroke-linecap="round" fill="none"/><circle cx="265.0" cy="233.5" r="14.40" fill="#fff" stroke="#0000ff" stroke-width="5.0"/><path d="M262.8,216.7 A16.9,16.9 0 1 1 262.8,250.3 Z" fill="#0000ff"/><text fill="#0000ff"><tspan x="365.34" y="258.80" textLength="205.99" lengthAdjust="spacingAndGlyphs">CRCP</tspan><tspan x="572.21" y="258.80" textLength="18.75" lengthAdjust="spacingAndGlyphs">,</tspan> <tspan x="606.67" y="258.80" textLength="54.12" lengthAdjust="spacingAndGlyphs">D</tspan><tspan x="658.47" y="278.70" textLength="53.26" lengthAdjust="spacingAndGlyphs" style="font-size:50px">50</tspan><tspan x="707.12" y="258.80" textLength="210.54" lengthAdjust="spacingAndGlyphs">=10.02</tspan> <tspan x="938.68" y="258.80" textLength="97.71" lengthAdjust="spacingAndGlyphs">μm</tspan></text></g>
</g>
</svg></body></html>
